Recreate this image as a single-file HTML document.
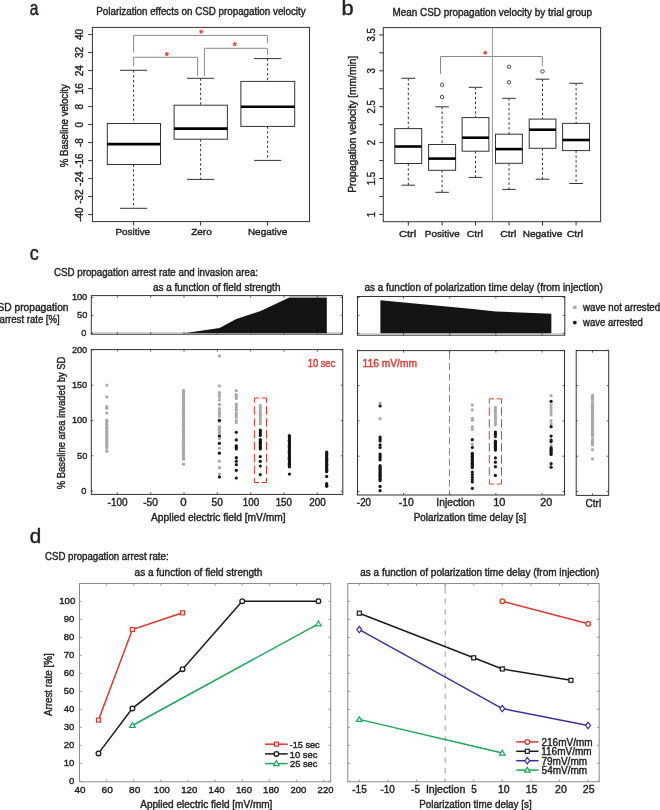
<!DOCTYPE html>
<html><head><meta charset="utf-8"><title>figure</title>
<style>
html,body{margin:0;padding:0;background:#fff;}
body{width:660px;height:810px;overflow:hidden;}
svg{display:block;font-family:"Liberation Sans", sans-serif;}
svg{will-change:transform;}
</style></head><body>
<svg width="660" height="810" viewBox="0 0 660 810">
<rect x="0" y="0" width="660" height="810" fill="#fff"/>
<text transform="translate(29.75,14.80) scale(0.7885,1)" font-size="19.7" fill="#231f20" stroke="#231f20" stroke-width="0.45">a</text>
<text transform="translate(341.51,14.80) scale(1.0497,1)" font-size="20.7" fill="#231f20" stroke="#231f20" stroke-width="0.45">b</text>
<text transform="translate(29.84,260.30) scale(0.9165,1)" font-size="19.7" fill="#231f20" stroke="#231f20" stroke-width="0.45">c</text>
<text transform="translate(29.73,543.00) scale(0.9984,1)" font-size="20.7" fill="#231f20" stroke="#231f20" stroke-width="0.45">d</text>
<text transform="translate(96.30,15.00) scale(0.9799,1)" font-size="10" fill="#231f20" stroke="#231f20" stroke-width="0.4">Polarization effects on CSD propagation velocity</text>
<rect x="92.40" y="27.40" width="217.10" height="194.20" stroke="#333" stroke-width="1" fill="none"/>
<line x1="88.20" y1="214.60" x2="92.40" y2="214.60" stroke="#333" stroke-width="1"/>
<text transform="translate(83.40,221.85) rotate(-90) scale(1.0000,1)" font-size="10" fill="#231f20" stroke="#231f20" stroke-width="0.4">-40</text>
<line x1="88.20" y1="196.60" x2="92.40" y2="196.60" stroke="#333" stroke-width="1"/>
<text transform="translate(83.40,203.79) rotate(-90) scale(1.0000,1)" font-size="10" fill="#231f20" stroke="#231f20" stroke-width="0.4">-32</text>
<line x1="88.20" y1="178.60" x2="92.40" y2="178.60" stroke="#333" stroke-width="1"/>
<text transform="translate(83.40,185.90) rotate(-90) scale(1.0000,1)" font-size="10" fill="#231f20" stroke="#231f20" stroke-width="0.4">-24</text>
<line x1="88.20" y1="160.60" x2="92.40" y2="160.60" stroke="#333" stroke-width="1"/>
<text transform="translate(83.40,167.83) rotate(-90) scale(1.0000,1)" font-size="10" fill="#231f20" stroke="#231f20" stroke-width="0.4">-16</text>
<line x1="88.20" y1="142.60" x2="92.40" y2="142.60" stroke="#333" stroke-width="1"/>
<text transform="translate(83.40,147.05) rotate(-90) scale(1.0000,1)" font-size="10" fill="#231f20" stroke="#231f20" stroke-width="0.4">-8</text>
<line x1="88.20" y1="124.60" x2="92.40" y2="124.60" stroke="#333" stroke-width="1"/>
<text transform="translate(83.40,127.38) rotate(-90) scale(1.0000,1)" font-size="10" fill="#231f20" stroke="#231f20" stroke-width="0.4">0</text>
<line x1="88.20" y1="106.60" x2="92.40" y2="106.60" stroke="#333" stroke-width="1"/>
<text transform="translate(83.40,109.38) rotate(-90) scale(1.0000,1)" font-size="10" fill="#231f20" stroke="#231f20" stroke-width="0.4">8</text>
<line x1="88.20" y1="88.60" x2="92.40" y2="88.60" stroke="#333" stroke-width="1"/>
<text transform="translate(83.40,94.32) rotate(-90) scale(1.0000,1)" font-size="10" fill="#231f20" stroke="#231f20" stroke-width="0.4">16</text>
<line x1="88.20" y1="70.60" x2="92.40" y2="70.60" stroke="#333" stroke-width="1"/>
<text transform="translate(83.40,76.27) rotate(-90) scale(1.0000,1)" font-size="10" fill="#231f20" stroke="#231f20" stroke-width="0.4">24</text>
<line x1="88.20" y1="52.60" x2="92.40" y2="52.60" stroke="#333" stroke-width="1"/>
<text transform="translate(83.40,58.10) rotate(-90) scale(1.0000,1)" font-size="10" fill="#231f20" stroke="#231f20" stroke-width="0.4">32</text>
<line x1="88.20" y1="34.60" x2="92.40" y2="34.60" stroke="#333" stroke-width="1"/>
<text transform="translate(83.40,40.08) rotate(-90) scale(1.0000,1)" font-size="10" fill="#231f20" stroke="#231f20" stroke-width="0.4">40</text>
<text transform="translate(68.20,167.24) rotate(-90) scale(0.9653,1)" font-size="10" fill="#231f20" stroke="#231f20" stroke-width="0.4">% Baseline velocity</text>
<line x1="133.60" y1="70.30" x2="133.60" y2="123.50" stroke="#333" stroke-width="1" stroke-dasharray="2.4,2.4"/>
<line x1="133.60" y1="164.50" x2="133.60" y2="208.30" stroke="#333" stroke-width="1" stroke-dasharray="2.4,2.4"/>
<line x1="120.10" y1="70.30" x2="147.10" y2="70.30" stroke="#333" stroke-width="1"/>
<line x1="120.10" y1="208.30" x2="147.10" y2="208.30" stroke="#333" stroke-width="1"/>
<rect x="107.30" y="123.50" width="53.20" height="41.00" stroke="#333" stroke-width="1" fill="#fff"/>
<line x1="107.30" y1="144.10" x2="160.50" y2="144.10" stroke="#000" stroke-width="2.6"/>
<line x1="133.60" y1="221.30" x2="133.60" y2="225.50" stroke="#333" stroke-width="1"/>
<text transform="translate(115.49,235.00) scale(1.0098,1)" font-size="9.8" fill="#231f20" stroke="#231f20" stroke-width="0.4">Positive</text>
<line x1="200.60" y1="78.30" x2="200.60" y2="105.20" stroke="#333" stroke-width="1" stroke-dasharray="2.4,2.4"/>
<line x1="200.60" y1="139.20" x2="200.60" y2="179.40" stroke="#333" stroke-width="1" stroke-dasharray="2.4,2.4"/>
<line x1="187.10" y1="78.30" x2="214.10" y2="78.30" stroke="#333" stroke-width="1"/>
<line x1="187.10" y1="179.40" x2="214.10" y2="179.40" stroke="#333" stroke-width="1"/>
<rect x="174.10" y="105.20" width="53.30" height="34.00" stroke="#333" stroke-width="1" fill="#fff"/>
<line x1="174.10" y1="128.60" x2="227.40" y2="128.60" stroke="#000" stroke-width="2.6"/>
<line x1="200.60" y1="221.30" x2="200.60" y2="225.50" stroke="#333" stroke-width="1"/>
<text transform="translate(191.19,235.00) scale(1.0184,1)" font-size="9.8" fill="#231f20" stroke="#231f20" stroke-width="0.4">Zero</text>
<line x1="267.60" y1="58.60" x2="267.60" y2="81.40" stroke="#333" stroke-width="1" stroke-dasharray="2.4,2.4"/>
<line x1="267.60" y1="126.40" x2="267.60" y2="160.40" stroke="#333" stroke-width="1" stroke-dasharray="2.4,2.4"/>
<line x1="254.10" y1="58.60" x2="281.10" y2="58.60" stroke="#333" stroke-width="1"/>
<line x1="254.10" y1="160.40" x2="281.10" y2="160.40" stroke="#333" stroke-width="1"/>
<rect x="240.90" y="81.40" width="53.80" height="45.00" stroke="#333" stroke-width="1" fill="#fff"/>
<line x1="240.90" y1="106.70" x2="294.70" y2="106.70" stroke="#000" stroke-width="2.6"/>
<line x1="267.60" y1="221.30" x2="267.60" y2="225.50" stroke="#333" stroke-width="1"/>
<text transform="translate(247.88,235.00) scale(1.0228,1)" font-size="9.8" fill="#231f20" stroke="#231f20" stroke-width="0.4">Negative</text>
<polyline points="133.60,52.60 133.60,35.40 267.60,35.40 267.60,43.50" fill="none" stroke="#8a8a8a" stroke-width="1"/>
<polyline points="133.60,66.20 133.60,57.30 197.60,57.30 197.60,76.00" fill="none" stroke="#8a8a8a" stroke-width="1"/>
<polyline points="204.40,76.00 204.40,48.30 267.60,48.30 267.60,54.80" fill="none" stroke="#8a8a8a" stroke-width="1"/>
<line x1="201.10" y1="31.70" x2="201.10" y2="29.60" stroke="#e53a30" stroke-width="1.2"/>
<line x1="201.10" y1="31.70" x2="199.10" y2="31.05" stroke="#e53a30" stroke-width="1.2"/>
<line x1="201.10" y1="31.70" x2="199.87" y2="33.40" stroke="#e53a30" stroke-width="1.2"/>
<line x1="201.10" y1="31.70" x2="202.33" y2="33.40" stroke="#e53a30" stroke-width="1.2"/>
<line x1="201.10" y1="31.70" x2="203.10" y2="31.05" stroke="#e53a30" stroke-width="1.2"/>
<line x1="166.80" y1="54.10" x2="166.80" y2="52.00" stroke="#e53a30" stroke-width="1.2"/>
<line x1="166.80" y1="54.10" x2="164.80" y2="53.45" stroke="#e53a30" stroke-width="1.2"/>
<line x1="166.80" y1="54.10" x2="165.57" y2="55.80" stroke="#e53a30" stroke-width="1.2"/>
<line x1="166.80" y1="54.10" x2="168.03" y2="55.80" stroke="#e53a30" stroke-width="1.2"/>
<line x1="166.80" y1="54.10" x2="168.80" y2="53.45" stroke="#e53a30" stroke-width="1.2"/>
<line x1="234.70" y1="44.20" x2="234.70" y2="42.10" stroke="#e53a30" stroke-width="1.2"/>
<line x1="234.70" y1="44.20" x2="232.70" y2="43.55" stroke="#e53a30" stroke-width="1.2"/>
<line x1="234.70" y1="44.20" x2="233.47" y2="45.90" stroke="#e53a30" stroke-width="1.2"/>
<line x1="234.70" y1="44.20" x2="235.93" y2="45.90" stroke="#e53a30" stroke-width="1.2"/>
<line x1="234.70" y1="44.20" x2="236.70" y2="43.55" stroke="#e53a30" stroke-width="1.2"/>
<text transform="translate(392.49,15.80) scale(0.9920,1)" font-size="10" fill="#231f20" stroke="#231f20" stroke-width="0.4">Mean CSD propagation velocity by trial group</text>
<rect x="383.30" y="27.60" width="217.30" height="194.10" stroke="#333" stroke-width="1" fill="none"/>
<line x1="379.20" y1="214.40" x2="383.30" y2="214.40" stroke="#333" stroke-width="1"/>
<text transform="translate(375.00,217.20) rotate(-90) scale(0.9300,1)" font-size="10.3" fill="#231f20" stroke="#231f20" stroke-width="0.4">1</text>
<line x1="379.20" y1="196.45" x2="383.30" y2="196.45" stroke="#333" stroke-width="1"/>
<line x1="379.20" y1="178.50" x2="383.30" y2="178.50" stroke="#333" stroke-width="1"/>
<text transform="translate(375.00,185.33) rotate(-90) scale(0.9300,1)" font-size="10.3" fill="#231f20" stroke="#231f20" stroke-width="0.4">1.5</text>
<line x1="379.20" y1="160.55" x2="383.30" y2="160.55" stroke="#333" stroke-width="1"/>
<line x1="379.20" y1="142.60" x2="383.30" y2="142.60" stroke="#333" stroke-width="1"/>
<text transform="translate(375.00,145.26) rotate(-90) scale(0.9300,1)" font-size="10.3" fill="#231f20" stroke="#231f20" stroke-width="0.4">2</text>
<line x1="379.20" y1="124.65" x2="383.30" y2="124.65" stroke="#333" stroke-width="1"/>
<line x1="379.20" y1="106.70" x2="383.30" y2="106.70" stroke="#333" stroke-width="1"/>
<text transform="translate(375.00,113.40) rotate(-90) scale(0.9300,1)" font-size="10.3" fill="#231f20" stroke="#231f20" stroke-width="0.4">2.5</text>
<line x1="379.20" y1="88.75" x2="383.30" y2="88.75" stroke="#333" stroke-width="1"/>
<line x1="379.20" y1="70.80" x2="383.30" y2="70.80" stroke="#333" stroke-width="1"/>
<text transform="translate(375.00,73.44) rotate(-90) scale(0.9300,1)" font-size="10.3" fill="#231f20" stroke="#231f20" stroke-width="0.4">3</text>
<line x1="379.20" y1="52.85" x2="383.30" y2="52.85" stroke="#333" stroke-width="1"/>
<line x1="379.20" y1="34.90" x2="383.30" y2="34.90" stroke="#333" stroke-width="1"/>
<text transform="translate(375.00,41.54) rotate(-90) scale(0.9300,1)" font-size="10.3" fill="#231f20" stroke="#231f20" stroke-width="0.4">3.5</text>
<text transform="translate(356.20,192.84) rotate(-90) scale(1.0256,1)" font-size="10" fill="#231f20" stroke="#231f20" stroke-width="0.4">Propagation velocity [mm/min]</text>
<line x1="492.40" y1="27.60" x2="492.40" y2="221.50" stroke="#999" stroke-width="1"/>
<line x1="408.30" y1="78.30" x2="408.30" y2="128.60" stroke="#333" stroke-width="1" stroke-dasharray="2.4,2.4"/>
<line x1="408.30" y1="163.50" x2="408.30" y2="185.20" stroke="#333" stroke-width="1" stroke-dasharray="2.4,2.4"/>
<line x1="401.50" y1="78.30" x2="415.10" y2="78.30" stroke="#333" stroke-width="1"/>
<line x1="401.50" y1="185.20" x2="415.10" y2="185.20" stroke="#333" stroke-width="1"/>
<rect x="394.80" y="128.60" width="26.90" height="34.90" stroke="#333" stroke-width="1" fill="#fff"/>
<line x1="394.80" y1="146.50" x2="421.70" y2="146.50" stroke="#000" stroke-width="2.6"/>
<line x1="408.30" y1="221.50" x2="408.30" y2="225.50" stroke="#333" stroke-width="1"/>
<text transform="translate(398.94,237.00) scale(1.1346,1)" font-size="9.8" fill="#231f20" stroke="#231f20" stroke-width="0.4">Ctrl</text>
<line x1="442.10" y1="106.80" x2="442.10" y2="144.50" stroke="#333" stroke-width="1" stroke-dasharray="2.4,2.4"/>
<line x1="442.10" y1="170.30" x2="442.10" y2="192.30" stroke="#333" stroke-width="1" stroke-dasharray="2.4,2.4"/>
<line x1="435.30" y1="106.80" x2="448.90" y2="106.80" stroke="#333" stroke-width="1"/>
<line x1="435.30" y1="192.30" x2="448.90" y2="192.30" stroke="#333" stroke-width="1"/>
<rect x="428.60" y="144.50" width="27.00" height="25.80" stroke="#333" stroke-width="1" fill="#fff"/>
<line x1="428.60" y1="158.60" x2="455.60" y2="158.60" stroke="#000" stroke-width="2.6"/>
<circle cx="442.10" cy="84.80" r="1.7" fill="none" stroke="#333" stroke-width="0.9"/>
<circle cx="442.10" cy="97.00" r="1.7" fill="none" stroke="#333" stroke-width="0.9"/>
<line x1="442.10" y1="221.50" x2="442.10" y2="225.50" stroke="#333" stroke-width="1"/>
<text transform="translate(424.78,237.00) scale(1.0219,1)" font-size="9.8" fill="#231f20" stroke="#231f20" stroke-width="0.4">Positive</text>
<line x1="475.50" y1="87.30" x2="475.50" y2="117.60" stroke="#333" stroke-width="1" stroke-dasharray="2.4,2.4"/>
<line x1="475.50" y1="151.20" x2="475.50" y2="177.40" stroke="#333" stroke-width="1" stroke-dasharray="2.4,2.4"/>
<line x1="468.70" y1="87.30" x2="482.30" y2="87.30" stroke="#333" stroke-width="1"/>
<line x1="468.70" y1="177.40" x2="482.30" y2="177.40" stroke="#333" stroke-width="1"/>
<rect x="462.10" y="117.60" width="26.80" height="33.60" stroke="#333" stroke-width="1" fill="#fff"/>
<line x1="462.10" y1="137.70" x2="488.90" y2="137.70" stroke="#000" stroke-width="2.6"/>
<line x1="475.50" y1="221.50" x2="475.50" y2="225.50" stroke="#333" stroke-width="1"/>
<text transform="translate(466.78,237.00) scale(1.0637,1)" font-size="9.8" fill="#231f20" stroke="#231f20" stroke-width="0.4">Ctrl</text>
<line x1="509.00" y1="98.30" x2="509.00" y2="134.20" stroke="#333" stroke-width="1" stroke-dasharray="2.4,2.4"/>
<line x1="509.00" y1="163.30" x2="509.00" y2="189.40" stroke="#333" stroke-width="1" stroke-dasharray="2.4,2.4"/>
<line x1="502.20" y1="98.30" x2="515.80" y2="98.30" stroke="#333" stroke-width="1"/>
<line x1="502.20" y1="189.40" x2="515.80" y2="189.40" stroke="#333" stroke-width="1"/>
<rect x="495.50" y="134.20" width="26.90" height="29.10" stroke="#333" stroke-width="1" fill="#fff"/>
<line x1="495.50" y1="149.10" x2="522.40" y2="149.10" stroke="#000" stroke-width="2.6"/>
<circle cx="509.00" cy="66.70" r="1.7" fill="none" stroke="#333" stroke-width="0.9"/>
<circle cx="509.00" cy="82.30" r="1.7" fill="none" stroke="#333" stroke-width="0.9"/>
<line x1="509.00" y1="221.50" x2="509.00" y2="225.50" stroke="#333" stroke-width="1"/>
<text transform="translate(500.18,237.00) scale(1.0637,1)" font-size="9.8" fill="#231f20" stroke="#231f20" stroke-width="0.4">Ctrl</text>
<line x1="542.50" y1="79.20" x2="542.50" y2="119.10" stroke="#333" stroke-width="1" stroke-dasharray="2.4,2.4"/>
<line x1="542.50" y1="148.30" x2="542.50" y2="179.20" stroke="#333" stroke-width="1" stroke-dasharray="2.4,2.4"/>
<line x1="535.70" y1="79.20" x2="549.30" y2="79.20" stroke="#333" stroke-width="1"/>
<line x1="535.70" y1="179.20" x2="549.30" y2="179.20" stroke="#333" stroke-width="1"/>
<rect x="529.20" y="119.10" width="26.70" height="29.20" stroke="#333" stroke-width="1" fill="#fff"/>
<line x1="529.20" y1="129.70" x2="555.90" y2="129.70" stroke="#000" stroke-width="2.6"/>
<circle cx="542.50" cy="71.40" r="1.7" fill="none" stroke="#333" stroke-width="0.9"/>
<line x1="542.50" y1="221.50" x2="542.50" y2="225.50" stroke="#333" stroke-width="1"/>
<text transform="translate(522.78,237.00) scale(1.0201,1)" font-size="9.8" fill="#231f20" stroke="#231f20" stroke-width="0.4">Negative</text>
<line x1="576.10" y1="83.30" x2="576.10" y2="123.40" stroke="#333" stroke-width="1" stroke-dasharray="2.4,2.4"/>
<line x1="576.10" y1="150.60" x2="576.10" y2="183.50" stroke="#333" stroke-width="1" stroke-dasharray="2.4,2.4"/>
<line x1="569.30" y1="83.30" x2="582.90" y2="83.30" stroke="#333" stroke-width="1"/>
<line x1="569.30" y1="183.50" x2="582.90" y2="183.50" stroke="#333" stroke-width="1"/>
<rect x="562.60" y="123.40" width="26.90" height="27.20" stroke="#333" stroke-width="1" fill="#fff"/>
<line x1="562.60" y1="140.00" x2="589.50" y2="140.00" stroke="#000" stroke-width="2.6"/>
<line x1="576.10" y1="221.50" x2="576.10" y2="225.50" stroke="#333" stroke-width="1"/>
<text transform="translate(566.67,237.00) scale(1.0849,1)" font-size="9.8" fill="#231f20" stroke="#231f20" stroke-width="0.4">Ctrl</text>
<polyline points="440.50,73.90 440.50,56.50 542.30,56.50 542.30,66.40" fill="none" stroke="#8a8a8a" stroke-width="1"/>
<line x1="485.20" y1="52.70" x2="485.20" y2="50.60" stroke="#e53a30" stroke-width="1.2"/>
<line x1="485.20" y1="52.70" x2="483.20" y2="52.05" stroke="#e53a30" stroke-width="1.2"/>
<line x1="485.20" y1="52.70" x2="483.97" y2="54.40" stroke="#e53a30" stroke-width="1.2"/>
<line x1="485.20" y1="52.70" x2="486.43" y2="54.40" stroke="#e53a30" stroke-width="1.2"/>
<line x1="485.20" y1="52.70" x2="487.20" y2="52.05" stroke="#e53a30" stroke-width="1.2"/>
<text transform="translate(54.01,275.50) scale(0.9752,1)" font-size="10" fill="#231f20" stroke="#231f20" stroke-width="0.4">CSD propagation arrest rate and invasion area:</text>
<text transform="translate(152.88,291.00) scale(0.9984,1)" font-size="10" fill="#231f20" stroke="#231f20" stroke-width="0.4">as a function of field strength</text>
<text transform="translate(364.38,291.00) scale(0.9985,1)" font-size="10" fill="#231f20" stroke="#231f20" stroke-width="0.4">as a function of polarization time delay (from injection)</text>
<text transform="translate(-10.01,311.10) scale(1.0255,1)" font-size="10" fill="#231f20" stroke="#231f20" stroke-width="0.4">CSD propagation</text>
<text transform="translate(-0.40,323.20) scale(0.9583,1)" font-size="10" fill="#231f20" stroke="#231f20" stroke-width="0.4">arrest rate [%]</text>
<line x1="91.30" y1="332.50" x2="342.50" y2="332.50" stroke="#c8c8c8" stroke-width="0.8"/>
<polygon points="184.00,333.30 219.52,327.92 236.32,318.94 260.65,311.04 289.31,297.40 326.80,297.40 326.80,333.30" fill="#141414"/>
<line x1="289.31" y1="296.90" x2="326.80" y2="296.90" stroke="#aaa" stroke-width="1"/>
<rect x="91.30" y="295.60" width="251.20" height="38.60" stroke="#333" stroke-width="1" fill="none"/>
<line x1="117.35" y1="295.60" x2="117.35" y2="297.60" stroke="#333" stroke-width="0.8"/>
<line x1="117.35" y1="334.20" x2="117.35" y2="332.20" stroke="#333" stroke-width="0.8"/>
<line x1="150.68" y1="295.60" x2="150.68" y2="297.60" stroke="#333" stroke-width="0.8"/>
<line x1="150.68" y1="334.20" x2="150.68" y2="332.20" stroke="#333" stroke-width="0.8"/>
<line x1="184.00" y1="295.60" x2="184.00" y2="297.60" stroke="#333" stroke-width="0.8"/>
<line x1="184.00" y1="334.20" x2="184.00" y2="332.20" stroke="#333" stroke-width="0.8"/>
<line x1="217.32" y1="295.60" x2="217.32" y2="297.60" stroke="#333" stroke-width="0.8"/>
<line x1="217.32" y1="334.20" x2="217.32" y2="332.20" stroke="#333" stroke-width="0.8"/>
<line x1="250.65" y1="295.60" x2="250.65" y2="297.60" stroke="#333" stroke-width="0.8"/>
<line x1="250.65" y1="334.20" x2="250.65" y2="332.20" stroke="#333" stroke-width="0.8"/>
<line x1="283.98" y1="295.60" x2="283.98" y2="297.60" stroke="#333" stroke-width="0.8"/>
<line x1="283.98" y1="334.20" x2="283.98" y2="332.20" stroke="#333" stroke-width="0.8"/>
<line x1="317.30" y1="295.60" x2="317.30" y2="297.60" stroke="#333" stroke-width="0.8"/>
<line x1="317.30" y1="334.20" x2="317.30" y2="332.20" stroke="#333" stroke-width="0.8"/>
<line x1="91.30" y1="333.30" x2="93.30" y2="333.30" stroke="#333" stroke-width="0.8"/>
<line x1="342.50" y1="333.30" x2="340.50" y2="333.30" stroke="#333" stroke-width="0.8"/>
<line x1="91.30" y1="315.35" x2="93.30" y2="315.35" stroke="#333" stroke-width="0.8"/>
<line x1="342.50" y1="315.35" x2="340.50" y2="315.35" stroke="#333" stroke-width="0.8"/>
<line x1="91.30" y1="297.40" x2="93.30" y2="297.40" stroke="#333" stroke-width="0.8"/>
<line x1="342.50" y1="297.40" x2="340.50" y2="297.40" stroke="#333" stroke-width="0.8"/>
<text transform="translate(71.88,300.42) scale(0.9400,1)" font-size="9.8" fill="#231f20" stroke="#231f20" stroke-width="0.4">100</text>
<text transform="translate(77.01,318.02) scale(0.9400,1)" font-size="9.8" fill="#231f20" stroke="#231f20" stroke-width="0.4">50</text>
<text transform="translate(81.13,335.82) scale(0.9400,1)" font-size="9.8" fill="#231f20" stroke="#231f20" stroke-width="0.4">0</text>
<line x1="357.50" y1="333.50" x2="564.80" y2="333.50" stroke="#c8c8c8" stroke-width="0.8"/>
<polygon points="380.40,333.30 380.40,300.27 472.80,308.89 495.90,311.40 551.34,313.73 551.34,333.30" fill="#141414"/>
<rect x="357.50" y="296.50" width="207.30" height="38.70" stroke="#333" stroke-width="1" fill="none"/>
<line x1="357.30" y1="296.50" x2="357.30" y2="298.50" stroke="#333" stroke-width="0.8"/>
<line x1="357.30" y1="335.20" x2="357.30" y2="333.20" stroke="#333" stroke-width="0.8"/>
<line x1="403.50" y1="296.50" x2="403.50" y2="298.50" stroke="#333" stroke-width="0.8"/>
<line x1="403.50" y1="335.20" x2="403.50" y2="333.20" stroke="#333" stroke-width="0.8"/>
<line x1="449.70" y1="296.50" x2="449.70" y2="298.50" stroke="#333" stroke-width="0.8"/>
<line x1="449.70" y1="335.20" x2="449.70" y2="333.20" stroke="#333" stroke-width="0.8"/>
<line x1="495.90" y1="296.50" x2="495.90" y2="298.50" stroke="#333" stroke-width="0.8"/>
<line x1="495.90" y1="335.20" x2="495.90" y2="333.20" stroke="#333" stroke-width="0.8"/>
<line x1="542.10" y1="296.50" x2="542.10" y2="298.50" stroke="#333" stroke-width="0.8"/>
<line x1="542.10" y1="335.20" x2="542.10" y2="333.20" stroke="#333" stroke-width="0.8"/>
<line x1="357.50" y1="333.30" x2="359.50" y2="333.30" stroke="#333" stroke-width="0.8"/>
<line x1="564.80" y1="333.30" x2="562.80" y2="333.30" stroke="#333" stroke-width="0.8"/>
<line x1="357.50" y1="315.35" x2="359.50" y2="315.35" stroke="#333" stroke-width="0.8"/>
<line x1="564.80" y1="315.35" x2="562.80" y2="315.35" stroke="#333" stroke-width="0.8"/>
<line x1="357.50" y1="297.40" x2="359.50" y2="297.40" stroke="#333" stroke-width="0.8"/>
<line x1="564.80" y1="297.40" x2="562.80" y2="297.40" stroke="#333" stroke-width="0.8"/>
<circle cx="574.80" cy="307.30" r="1.9" fill="#a9a9a9" stroke="none" stroke-width="1"/>
<circle cx="574.80" cy="322.60" r="1.9" fill="#141414" stroke="none" stroke-width="1"/>
<text transform="translate(583.02,311.00) scale(0.9712,1)" font-size="10" fill="#231f20" stroke="#231f20" stroke-width="0.4">wave not arrested</text>
<text transform="translate(583.02,325.70) scale(0.9535,1)" font-size="10" fill="#231f20" stroke="#231f20" stroke-width="0.4">wave arrested</text>
<rect x="91.30" y="349.60" width="251.50" height="144.80" stroke="#333" stroke-width="1" fill="none"/>
<line x1="117.35" y1="349.60" x2="117.35" y2="351.60" stroke="#333" stroke-width="0.8"/>
<line x1="117.35" y1="494.40" x2="117.35" y2="492.40" stroke="#333" stroke-width="0.8"/>
<text transform="translate(107.56,506.20) scale(0.9860,1)" font-size="10.2" fill="#231f20" stroke="#231f20" stroke-width="0.4">-100</text>
<line x1="150.68" y1="349.60" x2="150.68" y2="351.60" stroke="#333" stroke-width="0.8"/>
<line x1="150.68" y1="494.40" x2="150.68" y2="492.40" stroke="#333" stroke-width="0.8"/>
<text transform="translate(143.15,506.20) scale(0.9998,1)" font-size="10.2" fill="#231f20" stroke="#231f20" stroke-width="0.4">-50</text>
<line x1="184.00" y1="349.60" x2="184.00" y2="351.60" stroke="#333" stroke-width="0.8"/>
<line x1="184.00" y1="494.40" x2="184.00" y2="492.40" stroke="#333" stroke-width="0.8"/>
<text transform="translate(180.25,506.20) scale(1.1257,1)" font-size="10.2" fill="#231f20" stroke="#231f20" stroke-width="0.4">0</text>
<line x1="217.32" y1="349.60" x2="217.32" y2="351.60" stroke="#333" stroke-width="0.8"/>
<line x1="217.32" y1="494.40" x2="217.32" y2="492.40" stroke="#333" stroke-width="0.8"/>
<text transform="translate(211.59,506.20) scale(0.9956,1)" font-size="10.2" fill="#231f20" stroke="#231f20" stroke-width="0.4">50</text>
<line x1="250.65" y1="349.60" x2="250.65" y2="351.60" stroke="#333" stroke-width="0.8"/>
<line x1="250.65" y1="494.40" x2="250.65" y2="492.40" stroke="#333" stroke-width="0.8"/>
<text transform="translate(242.85,506.20) scale(0.9653,1)" font-size="10.2" fill="#231f20" stroke="#231f20" stroke-width="0.4">100</text>
<line x1="283.98" y1="349.60" x2="283.98" y2="351.60" stroke="#333" stroke-width="0.8"/>
<line x1="283.98" y1="494.40" x2="283.98" y2="492.40" stroke="#333" stroke-width="0.8"/>
<text transform="translate(275.66,506.20) scale(0.9589,1)" font-size="10.2" fill="#231f20" stroke="#231f20" stroke-width="0.4">150</text>
<line x1="317.30" y1="349.60" x2="317.30" y2="351.60" stroke="#333" stroke-width="0.8"/>
<line x1="317.30" y1="494.40" x2="317.30" y2="492.40" stroke="#333" stroke-width="0.8"/>
<text transform="translate(309.30,506.20) scale(0.9742,1)" font-size="10.2" fill="#231f20" stroke="#231f20" stroke-width="0.4">200</text>
<line x1="91.30" y1="491.10" x2="93.30" y2="491.10" stroke="#333" stroke-width="0.8"/>
<line x1="342.80" y1="491.10" x2="340.80" y2="491.10" stroke="#333" stroke-width="0.8"/>
<text transform="translate(81.13,493.92) scale(0.9400,1)" font-size="9.8" fill="#231f20" stroke="#231f20" stroke-width="0.4">0</text>
<line x1="91.30" y1="455.80" x2="93.30" y2="455.80" stroke="#333" stroke-width="0.8"/>
<line x1="342.80" y1="455.80" x2="340.80" y2="455.80" stroke="#333" stroke-width="0.8"/>
<text transform="translate(77.01,458.62) scale(0.9400,1)" font-size="9.8" fill="#231f20" stroke="#231f20" stroke-width="0.4">50</text>
<line x1="91.30" y1="420.50" x2="93.30" y2="420.50" stroke="#333" stroke-width="0.8"/>
<line x1="342.80" y1="420.50" x2="340.80" y2="420.50" stroke="#333" stroke-width="0.8"/>
<text transform="translate(71.88,423.32) scale(0.9400,1)" font-size="9.8" fill="#231f20" stroke="#231f20" stroke-width="0.4">100</text>
<line x1="91.30" y1="385.20" x2="93.30" y2="385.20" stroke="#333" stroke-width="0.8"/>
<line x1="342.80" y1="385.20" x2="340.80" y2="385.20" stroke="#333" stroke-width="0.8"/>
<text transform="translate(71.88,388.02) scale(0.9400,1)" font-size="9.8" fill="#231f20" stroke="#231f20" stroke-width="0.4">150</text>
<line x1="91.30" y1="349.90" x2="93.30" y2="349.90" stroke="#333" stroke-width="0.8"/>
<line x1="342.80" y1="349.90" x2="340.80" y2="349.90" stroke="#333" stroke-width="0.8"/>
<text transform="translate(71.88,352.72) scale(0.9400,1)" font-size="9.8" fill="#231f20" stroke="#231f20" stroke-width="0.4">200</text>
<text transform="translate(65.20,489.33) rotate(-90) scale(0.9441,1)" font-size="10" fill="#231f20" stroke="#231f20" stroke-width="0.4">% Baseline area invaded by SD</text>
<text transform="translate(150.98,521.10) scale(1.0231,1)" font-size="10" fill="#231f20" stroke="#231f20" stroke-width="0.4">Applied electric field [mV/mm]</text>
<text transform="translate(307.69,367.10) scale(0.9353,1)" font-size="10" fill="#e8352b" stroke="#e8352b" stroke-width="0.4">10 sec</text>
<circle cx="106.80" cy="385.10" r="1.6" fill="#a9a9a9" stroke="none" stroke-width="1"/>
<circle cx="106.80" cy="396.90" r="1.6" fill="#a9a9a9" stroke="none" stroke-width="1"/>
<circle cx="106.80" cy="406.70" r="1.6" fill="#a9a9a9" stroke="none" stroke-width="1"/>
<circle cx="106.80" cy="408.20" r="1.6" fill="#a9a9a9" stroke="none" stroke-width="1"/>
<circle cx="106.80" cy="413.00" r="1.6" fill="#a9a9a9" stroke="none" stroke-width="1"/>
<circle cx="106.80" cy="420.20" r="1.6" fill="#a9a9a9" stroke="none" stroke-width="1"/>
<circle cx="106.80" cy="421.59" r="1.6" fill="#a9a9a9" stroke="none" stroke-width="1"/>
<circle cx="106.80" cy="422.98" r="1.6" fill="#a9a9a9" stroke="none" stroke-width="1"/>
<circle cx="106.80" cy="424.37" r="1.6" fill="#a9a9a9" stroke="none" stroke-width="1"/>
<circle cx="106.80" cy="425.76" r="1.6" fill="#a9a9a9" stroke="none" stroke-width="1"/>
<circle cx="106.80" cy="427.15" r="1.6" fill="#a9a9a9" stroke="none" stroke-width="1"/>
<circle cx="106.80" cy="428.54" r="1.6" fill="#a9a9a9" stroke="none" stroke-width="1"/>
<circle cx="106.80" cy="429.93" r="1.6" fill="#a9a9a9" stroke="none" stroke-width="1"/>
<circle cx="106.80" cy="431.32" r="1.6" fill="#a9a9a9" stroke="none" stroke-width="1"/>
<circle cx="106.80" cy="432.71" r="1.6" fill="#a9a9a9" stroke="none" stroke-width="1"/>
<circle cx="106.80" cy="434.10" r="1.6" fill="#a9a9a9" stroke="none" stroke-width="1"/>
<circle cx="106.80" cy="435.49" r="1.6" fill="#a9a9a9" stroke="none" stroke-width="1"/>
<circle cx="106.80" cy="436.88" r="1.6" fill="#a9a9a9" stroke="none" stroke-width="1"/>
<circle cx="106.80" cy="438.27" r="1.6" fill="#a9a9a9" stroke="none" stroke-width="1"/>
<circle cx="106.80" cy="439.66" r="1.6" fill="#a9a9a9" stroke="none" stroke-width="1"/>
<circle cx="106.80" cy="441.05" r="1.6" fill="#a9a9a9" stroke="none" stroke-width="1"/>
<circle cx="106.80" cy="442.44" r="1.6" fill="#a9a9a9" stroke="none" stroke-width="1"/>
<circle cx="106.80" cy="443.83" r="1.6" fill="#a9a9a9" stroke="none" stroke-width="1"/>
<circle cx="106.80" cy="445.22" r="1.6" fill="#a9a9a9" stroke="none" stroke-width="1"/>
<circle cx="106.80" cy="446.61" r="1.6" fill="#a9a9a9" stroke="none" stroke-width="1"/>
<circle cx="106.80" cy="448.00" r="1.6" fill="#a9a9a9" stroke="none" stroke-width="1"/>
<circle cx="106.80" cy="451.20" r="1.6" fill="#a9a9a9" stroke="none" stroke-width="1"/>
<circle cx="183.50" cy="390.40" r="1.6" fill="#a9a9a9" stroke="none" stroke-width="1"/>
<circle cx="183.50" cy="391.61" r="1.6" fill="#a9a9a9" stroke="none" stroke-width="1"/>
<circle cx="183.50" cy="392.81" r="1.6" fill="#a9a9a9" stroke="none" stroke-width="1"/>
<circle cx="183.50" cy="394.02" r="1.6" fill="#a9a9a9" stroke="none" stroke-width="1"/>
<circle cx="183.50" cy="395.23" r="1.6" fill="#a9a9a9" stroke="none" stroke-width="1"/>
<circle cx="183.50" cy="396.44" r="1.6" fill="#a9a9a9" stroke="none" stroke-width="1"/>
<circle cx="183.50" cy="397.64" r="1.6" fill="#a9a9a9" stroke="none" stroke-width="1"/>
<circle cx="183.50" cy="398.85" r="1.6" fill="#a9a9a9" stroke="none" stroke-width="1"/>
<circle cx="183.50" cy="400.06" r="1.6" fill="#a9a9a9" stroke="none" stroke-width="1"/>
<circle cx="183.50" cy="401.26" r="1.6" fill="#a9a9a9" stroke="none" stroke-width="1"/>
<circle cx="183.50" cy="402.47" r="1.6" fill="#a9a9a9" stroke="none" stroke-width="1"/>
<circle cx="183.50" cy="403.68" r="1.6" fill="#a9a9a9" stroke="none" stroke-width="1"/>
<circle cx="183.50" cy="404.88" r="1.6" fill="#a9a9a9" stroke="none" stroke-width="1"/>
<circle cx="183.50" cy="406.09" r="1.6" fill="#a9a9a9" stroke="none" stroke-width="1"/>
<circle cx="183.50" cy="407.30" r="1.6" fill="#a9a9a9" stroke="none" stroke-width="1"/>
<circle cx="183.50" cy="408.51" r="1.6" fill="#a9a9a9" stroke="none" stroke-width="1"/>
<circle cx="183.50" cy="409.71" r="1.6" fill="#a9a9a9" stroke="none" stroke-width="1"/>
<circle cx="183.50" cy="410.92" r="1.6" fill="#a9a9a9" stroke="none" stroke-width="1"/>
<circle cx="183.50" cy="412.13" r="1.6" fill="#a9a9a9" stroke="none" stroke-width="1"/>
<circle cx="183.50" cy="413.33" r="1.6" fill="#a9a9a9" stroke="none" stroke-width="1"/>
<circle cx="183.50" cy="414.54" r="1.6" fill="#a9a9a9" stroke="none" stroke-width="1"/>
<circle cx="183.50" cy="415.75" r="1.6" fill="#a9a9a9" stroke="none" stroke-width="1"/>
<circle cx="183.50" cy="416.95" r="1.6" fill="#a9a9a9" stroke="none" stroke-width="1"/>
<circle cx="183.50" cy="418.16" r="1.6" fill="#a9a9a9" stroke="none" stroke-width="1"/>
<circle cx="183.50" cy="419.37" r="1.6" fill="#a9a9a9" stroke="none" stroke-width="1"/>
<circle cx="183.50" cy="420.58" r="1.6" fill="#a9a9a9" stroke="none" stroke-width="1"/>
<circle cx="183.50" cy="421.78" r="1.6" fill="#a9a9a9" stroke="none" stroke-width="1"/>
<circle cx="183.50" cy="422.99" r="1.6" fill="#a9a9a9" stroke="none" stroke-width="1"/>
<circle cx="183.50" cy="424.20" r="1.6" fill="#a9a9a9" stroke="none" stroke-width="1"/>
<circle cx="183.50" cy="425.40" r="1.6" fill="#a9a9a9" stroke="none" stroke-width="1"/>
<circle cx="183.50" cy="426.61" r="1.6" fill="#a9a9a9" stroke="none" stroke-width="1"/>
<circle cx="183.50" cy="427.82" r="1.6" fill="#a9a9a9" stroke="none" stroke-width="1"/>
<circle cx="183.50" cy="429.02" r="1.6" fill="#a9a9a9" stroke="none" stroke-width="1"/>
<circle cx="183.50" cy="430.23" r="1.6" fill="#a9a9a9" stroke="none" stroke-width="1"/>
<circle cx="183.50" cy="431.44" r="1.6" fill="#a9a9a9" stroke="none" stroke-width="1"/>
<circle cx="183.50" cy="432.65" r="1.6" fill="#a9a9a9" stroke="none" stroke-width="1"/>
<circle cx="183.50" cy="433.85" r="1.6" fill="#a9a9a9" stroke="none" stroke-width="1"/>
<circle cx="183.50" cy="435.06" r="1.6" fill="#a9a9a9" stroke="none" stroke-width="1"/>
<circle cx="183.50" cy="436.27" r="1.6" fill="#a9a9a9" stroke="none" stroke-width="1"/>
<circle cx="183.50" cy="437.47" r="1.6" fill="#a9a9a9" stroke="none" stroke-width="1"/>
<circle cx="183.50" cy="438.68" r="1.6" fill="#a9a9a9" stroke="none" stroke-width="1"/>
<circle cx="183.50" cy="439.89" r="1.6" fill="#a9a9a9" stroke="none" stroke-width="1"/>
<circle cx="183.50" cy="441.09" r="1.6" fill="#a9a9a9" stroke="none" stroke-width="1"/>
<circle cx="183.50" cy="442.30" r="1.6" fill="#a9a9a9" stroke="none" stroke-width="1"/>
<circle cx="183.50" cy="443.51" r="1.6" fill="#a9a9a9" stroke="none" stroke-width="1"/>
<circle cx="183.50" cy="444.72" r="1.6" fill="#a9a9a9" stroke="none" stroke-width="1"/>
<circle cx="183.50" cy="445.92" r="1.6" fill="#a9a9a9" stroke="none" stroke-width="1"/>
<circle cx="183.50" cy="447.13" r="1.6" fill="#a9a9a9" stroke="none" stroke-width="1"/>
<circle cx="183.50" cy="448.34" r="1.6" fill="#a9a9a9" stroke="none" stroke-width="1"/>
<circle cx="183.50" cy="449.54" r="1.6" fill="#a9a9a9" stroke="none" stroke-width="1"/>
<circle cx="183.50" cy="450.75" r="1.6" fill="#a9a9a9" stroke="none" stroke-width="1"/>
<circle cx="183.50" cy="451.96" r="1.6" fill="#a9a9a9" stroke="none" stroke-width="1"/>
<circle cx="183.50" cy="453.16" r="1.6" fill="#a9a9a9" stroke="none" stroke-width="1"/>
<circle cx="183.50" cy="454.37" r="1.6" fill="#a9a9a9" stroke="none" stroke-width="1"/>
<circle cx="183.50" cy="455.58" r="1.6" fill="#a9a9a9" stroke="none" stroke-width="1"/>
<circle cx="183.50" cy="456.79" r="1.6" fill="#a9a9a9" stroke="none" stroke-width="1"/>
<circle cx="183.50" cy="457.99" r="1.6" fill="#a9a9a9" stroke="none" stroke-width="1"/>
<circle cx="183.50" cy="459.20" r="1.6" fill="#a9a9a9" stroke="none" stroke-width="1"/>
<circle cx="183.50" cy="464.20" r="1.6" fill="#a9a9a9" stroke="none" stroke-width="1"/>
<circle cx="219.40" cy="355.90" r="1.6" fill="#a9a9a9" stroke="none" stroke-width="1"/>
<circle cx="219.40" cy="385.80" r="1.6" fill="#a9a9a9" stroke="none" stroke-width="1"/>
<circle cx="219.40" cy="392.50" r="1.6" fill="#a9a9a9" stroke="none" stroke-width="1"/>
<circle cx="219.40" cy="394.50" r="1.6" fill="#a9a9a9" stroke="none" stroke-width="1"/>
<circle cx="219.40" cy="396.60" r="1.6" fill="#a9a9a9" stroke="none" stroke-width="1"/>
<circle cx="219.40" cy="399.90" r="1.6" fill="#a9a9a9" stroke="none" stroke-width="1"/>
<circle cx="219.40" cy="404.40" r="1.6" fill="#a9a9a9" stroke="none" stroke-width="1"/>
<circle cx="219.40" cy="408.70" r="1.6" fill="#a9a9a9" stroke="none" stroke-width="1"/>
<circle cx="219.40" cy="411.30" r="1.6" fill="#a9a9a9" stroke="none" stroke-width="1"/>
<circle cx="219.40" cy="412.80" r="1.6" fill="#a9a9a9" stroke="none" stroke-width="1"/>
<circle cx="219.40" cy="414.30" r="1.6" fill="#a9a9a9" stroke="none" stroke-width="1"/>
<circle cx="219.40" cy="416.50" r="1.6" fill="#a9a9a9" stroke="none" stroke-width="1"/>
<circle cx="219.40" cy="421.50" r="1.6" fill="#a9a9a9" stroke="none" stroke-width="1"/>
<circle cx="219.40" cy="420.30" r="1.6" fill="#141414" stroke="none" stroke-width="1"/>
<circle cx="219.40" cy="426.70" r="1.6" fill="#a9a9a9" stroke="none" stroke-width="1"/>
<circle cx="219.40" cy="428.13" r="1.6" fill="#a9a9a9" stroke="none" stroke-width="1"/>
<circle cx="219.40" cy="429.57" r="1.6" fill="#a9a9a9" stroke="none" stroke-width="1"/>
<circle cx="219.40" cy="431.00" r="1.6" fill="#a9a9a9" stroke="none" stroke-width="1"/>
<circle cx="219.40" cy="432.43" r="1.6" fill="#a9a9a9" stroke="none" stroke-width="1"/>
<circle cx="219.40" cy="433.87" r="1.6" fill="#a9a9a9" stroke="none" stroke-width="1"/>
<circle cx="219.40" cy="435.30" r="1.6" fill="#a9a9a9" stroke="none" stroke-width="1"/>
<circle cx="219.40" cy="436.40" r="1.6" fill="#141414" stroke="none" stroke-width="1"/>
<circle cx="219.40" cy="438.70" r="1.6" fill="#a9a9a9" stroke="none" stroke-width="1"/>
<circle cx="219.40" cy="443.30" r="1.6" fill="#141414" stroke="none" stroke-width="1"/>
<circle cx="219.40" cy="448.20" r="1.6" fill="#a9a9a9" stroke="none" stroke-width="1"/>
<circle cx="219.40" cy="453.20" r="1.6" fill="#141414" stroke="none" stroke-width="1"/>
<circle cx="219.40" cy="461.20" r="1.6" fill="#a9a9a9" stroke="none" stroke-width="1"/>
<circle cx="219.40" cy="467.70" r="1.6" fill="#a9a9a9" stroke="none" stroke-width="1"/>
<circle cx="219.40" cy="474.20" r="1.6" fill="#a9a9a9" stroke="none" stroke-width="1"/>
<circle cx="219.40" cy="477.00" r="1.6" fill="#141414" stroke="none" stroke-width="1"/>
<circle cx="236.30" cy="390.60" r="1.6" fill="#a9a9a9" stroke="none" stroke-width="1"/>
<circle cx="236.30" cy="394.50" r="1.6" fill="#a9a9a9" stroke="none" stroke-width="1"/>
<circle cx="236.30" cy="396.50" r="1.6" fill="#a9a9a9" stroke="none" stroke-width="1"/>
<circle cx="236.30" cy="398.50" r="1.6" fill="#a9a9a9" stroke="none" stroke-width="1"/>
<circle cx="236.30" cy="404.00" r="1.6" fill="#a9a9a9" stroke="none" stroke-width="1"/>
<circle cx="236.30" cy="406.00" r="1.6" fill="#a9a9a9" stroke="none" stroke-width="1"/>
<circle cx="236.30" cy="408.00" r="1.6" fill="#a9a9a9" stroke="none" stroke-width="1"/>
<circle cx="236.30" cy="410.20" r="1.6" fill="#a9a9a9" stroke="none" stroke-width="1"/>
<circle cx="236.30" cy="413.00" r="1.6" fill="#a9a9a9" stroke="none" stroke-width="1"/>
<circle cx="236.30" cy="415.20" r="1.6" fill="#a9a9a9" stroke="none" stroke-width="1"/>
<circle cx="236.30" cy="417.20" r="1.6" fill="#a9a9a9" stroke="none" stroke-width="1"/>
<circle cx="236.30" cy="420.60" r="1.6" fill="#a9a9a9" stroke="none" stroke-width="1"/>
<circle cx="236.30" cy="422.60" r="1.6" fill="#a9a9a9" stroke="none" stroke-width="1"/>
<circle cx="236.30" cy="432.30" r="1.6" fill="#141414" stroke="none" stroke-width="1"/>
<circle cx="236.30" cy="439.90" r="1.6" fill="#141414" stroke="none" stroke-width="1"/>
<circle cx="236.30" cy="445.80" r="1.6" fill="#141414" stroke="none" stroke-width="1"/>
<circle cx="236.30" cy="447.50" r="1.6" fill="#141414" stroke="none" stroke-width="1"/>
<circle cx="236.30" cy="449.00" r="1.6" fill="#141414" stroke="none" stroke-width="1"/>
<circle cx="236.30" cy="457.70" r="1.6" fill="#141414" stroke="none" stroke-width="1"/>
<circle cx="236.30" cy="461.20" r="1.6" fill="#141414" stroke="none" stroke-width="1"/>
<circle cx="236.30" cy="464.70" r="1.6" fill="#141414" stroke="none" stroke-width="1"/>
<circle cx="236.30" cy="470.30" r="1.6" fill="#141414" stroke="none" stroke-width="1"/>
<circle cx="236.30" cy="478.00" r="1.6" fill="#141414" stroke="none" stroke-width="1"/>
<circle cx="260.30" cy="405.60" r="1.6" fill="#a9a9a9" stroke="none" stroke-width="1"/>
<circle cx="260.30" cy="407.61" r="1.6" fill="#a9a9a9" stroke="none" stroke-width="1"/>
<circle cx="260.30" cy="409.62" r="1.6" fill="#a9a9a9" stroke="none" stroke-width="1"/>
<circle cx="260.30" cy="411.63" r="1.6" fill="#a9a9a9" stroke="none" stroke-width="1"/>
<circle cx="260.30" cy="413.64" r="1.6" fill="#a9a9a9" stroke="none" stroke-width="1"/>
<circle cx="260.30" cy="415.66" r="1.6" fill="#a9a9a9" stroke="none" stroke-width="1"/>
<circle cx="260.30" cy="417.67" r="1.6" fill="#a9a9a9" stroke="none" stroke-width="1"/>
<circle cx="260.30" cy="419.68" r="1.6" fill="#a9a9a9" stroke="none" stroke-width="1"/>
<circle cx="260.30" cy="421.69" r="1.6" fill="#a9a9a9" stroke="none" stroke-width="1"/>
<circle cx="260.30" cy="423.70" r="1.6" fill="#a9a9a9" stroke="none" stroke-width="1"/>
<circle cx="260.30" cy="430.20" r="1.6" fill="#141414" stroke="none" stroke-width="1"/>
<circle cx="260.30" cy="432.00" r="1.6" fill="#141414" stroke="none" stroke-width="1"/>
<circle cx="260.30" cy="433.80" r="1.6" fill="#141414" stroke="none" stroke-width="1"/>
<circle cx="260.30" cy="435.50" r="1.6" fill="#141414" stroke="none" stroke-width="1"/>
<circle cx="260.30" cy="439.60" r="1.6" fill="#141414" stroke="none" stroke-width="1"/>
<circle cx="260.30" cy="440.94" r="1.6" fill="#141414" stroke="none" stroke-width="1"/>
<circle cx="260.30" cy="442.29" r="1.6" fill="#141414" stroke="none" stroke-width="1"/>
<circle cx="260.30" cy="443.63" r="1.6" fill="#141414" stroke="none" stroke-width="1"/>
<circle cx="260.30" cy="444.97" r="1.6" fill="#141414" stroke="none" stroke-width="1"/>
<circle cx="260.30" cy="446.31" r="1.6" fill="#141414" stroke="none" stroke-width="1"/>
<circle cx="260.30" cy="447.66" r="1.6" fill="#141414" stroke="none" stroke-width="1"/>
<circle cx="260.30" cy="449.00" r="1.6" fill="#141414" stroke="none" stroke-width="1"/>
<circle cx="260.30" cy="456.60" r="1.6" fill="#141414" stroke="none" stroke-width="1"/>
<circle cx="260.30" cy="461.30" r="1.6" fill="#141414" stroke="none" stroke-width="1"/>
<circle cx="260.30" cy="466.00" r="1.6" fill="#141414" stroke="none" stroke-width="1"/>
<circle cx="260.30" cy="474.70" r="1.6" fill="#141414" stroke="none" stroke-width="1"/>
<circle cx="289.40" cy="435.50" r="1.6" fill="#141414" stroke="none" stroke-width="1"/>
<circle cx="289.40" cy="436.70" r="1.6" fill="#141414" stroke="none" stroke-width="1"/>
<circle cx="289.40" cy="437.91" r="1.6" fill="#141414" stroke="none" stroke-width="1"/>
<circle cx="289.40" cy="439.11" r="1.6" fill="#141414" stroke="none" stroke-width="1"/>
<circle cx="289.40" cy="440.32" r="1.6" fill="#141414" stroke="none" stroke-width="1"/>
<circle cx="289.40" cy="441.52" r="1.6" fill="#141414" stroke="none" stroke-width="1"/>
<circle cx="289.40" cy="442.72" r="1.6" fill="#141414" stroke="none" stroke-width="1"/>
<circle cx="289.40" cy="443.93" r="1.6" fill="#141414" stroke="none" stroke-width="1"/>
<circle cx="289.40" cy="445.13" r="1.6" fill="#141414" stroke="none" stroke-width="1"/>
<circle cx="289.40" cy="446.33" r="1.6" fill="#141414" stroke="none" stroke-width="1"/>
<circle cx="289.40" cy="447.54" r="1.6" fill="#141414" stroke="none" stroke-width="1"/>
<circle cx="289.40" cy="448.74" r="1.6" fill="#141414" stroke="none" stroke-width="1"/>
<circle cx="289.40" cy="449.95" r="1.6" fill="#141414" stroke="none" stroke-width="1"/>
<circle cx="289.40" cy="451.15" r="1.6" fill="#141414" stroke="none" stroke-width="1"/>
<circle cx="289.40" cy="452.35" r="1.6" fill="#141414" stroke="none" stroke-width="1"/>
<circle cx="289.40" cy="453.56" r="1.6" fill="#141414" stroke="none" stroke-width="1"/>
<circle cx="289.40" cy="454.76" r="1.6" fill="#141414" stroke="none" stroke-width="1"/>
<circle cx="289.40" cy="455.97" r="1.6" fill="#141414" stroke="none" stroke-width="1"/>
<circle cx="289.40" cy="457.17" r="1.6" fill="#141414" stroke="none" stroke-width="1"/>
<circle cx="289.40" cy="458.37" r="1.6" fill="#141414" stroke="none" stroke-width="1"/>
<circle cx="289.40" cy="459.58" r="1.6" fill="#141414" stroke="none" stroke-width="1"/>
<circle cx="289.40" cy="460.78" r="1.6" fill="#141414" stroke="none" stroke-width="1"/>
<circle cx="289.40" cy="461.98" r="1.6" fill="#141414" stroke="none" stroke-width="1"/>
<circle cx="289.40" cy="463.19" r="1.6" fill="#141414" stroke="none" stroke-width="1"/>
<circle cx="289.40" cy="464.39" r="1.6" fill="#141414" stroke="none" stroke-width="1"/>
<circle cx="289.40" cy="465.60" r="1.6" fill="#141414" stroke="none" stroke-width="1"/>
<circle cx="289.40" cy="466.80" r="1.6" fill="#141414" stroke="none" stroke-width="1"/>
<circle cx="289.40" cy="474.10" r="1.6" fill="#141414" stroke="none" stroke-width="1"/>
<circle cx="326.70" cy="452.10" r="1.6" fill="#141414" stroke="none" stroke-width="1"/>
<circle cx="326.70" cy="453.33" r="1.6" fill="#141414" stroke="none" stroke-width="1"/>
<circle cx="326.70" cy="454.55" r="1.6" fill="#141414" stroke="none" stroke-width="1"/>
<circle cx="326.70" cy="455.78" r="1.6" fill="#141414" stroke="none" stroke-width="1"/>
<circle cx="326.70" cy="457.00" r="1.6" fill="#141414" stroke="none" stroke-width="1"/>
<circle cx="326.70" cy="458.23" r="1.6" fill="#141414" stroke="none" stroke-width="1"/>
<circle cx="326.70" cy="459.45" r="1.6" fill="#141414" stroke="none" stroke-width="1"/>
<circle cx="326.70" cy="460.68" r="1.6" fill="#141414" stroke="none" stroke-width="1"/>
<circle cx="326.70" cy="461.90" r="1.6" fill="#141414" stroke="none" stroke-width="1"/>
<circle cx="326.70" cy="463.12" r="1.6" fill="#141414" stroke="none" stroke-width="1"/>
<circle cx="326.70" cy="464.35" r="1.6" fill="#141414" stroke="none" stroke-width="1"/>
<circle cx="326.70" cy="465.57" r="1.6" fill="#141414" stroke="none" stroke-width="1"/>
<circle cx="326.70" cy="466.80" r="1.6" fill="#141414" stroke="none" stroke-width="1"/>
<circle cx="326.70" cy="468.02" r="1.6" fill="#141414" stroke="none" stroke-width="1"/>
<circle cx="326.70" cy="469.25" r="1.6" fill="#141414" stroke="none" stroke-width="1"/>
<circle cx="326.70" cy="470.47" r="1.6" fill="#141414" stroke="none" stroke-width="1"/>
<circle cx="326.70" cy="471.70" r="1.6" fill="#141414" stroke="none" stroke-width="1"/>
<circle cx="326.70" cy="476.40" r="1.6" fill="#141414" stroke="none" stroke-width="1"/>
<circle cx="326.70" cy="483.60" r="1.6" fill="#141414" stroke="none" stroke-width="1"/>
<circle cx="326.70" cy="485.20" r="1.6" fill="#141414" stroke="none" stroke-width="1"/>
<circle cx="326.70" cy="486.30" r="1.6" fill="#141414" stroke="none" stroke-width="1"/>
<polyline points="259.20,398.00 254.40,398.00 254.40,402.80" fill="none" stroke="#e8352b" stroke-width="1"/>
<polyline points="261.70,398.00 266.50,398.00 266.50,402.80" fill="none" stroke="#e8352b" stroke-width="1"/>
<polyline points="259.20,482.50 254.40,482.50 254.40,477.70" fill="none" stroke="#e8352b" stroke-width="1"/>
<polyline points="261.70,482.50 266.50,482.50 266.50,477.70" fill="none" stroke="#e8352b" stroke-width="1"/>
<line x1="254.40" y1="406.30" x2="254.40" y2="414.70" stroke="#e8352b" stroke-width="1"/>
<line x1="266.50" y1="406.30" x2="266.50" y2="414.70" stroke="#e8352b" stroke-width="1"/>
<line x1="254.40" y1="418.20" x2="254.40" y2="426.60" stroke="#e8352b" stroke-width="1"/>
<line x1="266.50" y1="418.20" x2="266.50" y2="426.60" stroke="#e8352b" stroke-width="1"/>
<line x1="254.40" y1="430.10" x2="254.40" y2="438.50" stroke="#e8352b" stroke-width="1"/>
<line x1="266.50" y1="430.10" x2="266.50" y2="438.50" stroke="#e8352b" stroke-width="1"/>
<line x1="254.40" y1="442.00" x2="254.40" y2="450.40" stroke="#e8352b" stroke-width="1"/>
<line x1="266.50" y1="442.00" x2="266.50" y2="450.40" stroke="#e8352b" stroke-width="1"/>
<line x1="254.40" y1="453.90" x2="254.40" y2="462.30" stroke="#e8352b" stroke-width="1"/>
<line x1="266.50" y1="453.90" x2="266.50" y2="462.30" stroke="#e8352b" stroke-width="1"/>
<line x1="254.40" y1="465.80" x2="254.40" y2="474.20" stroke="#e8352b" stroke-width="1"/>
<line x1="266.50" y1="465.80" x2="266.50" y2="474.20" stroke="#e8352b" stroke-width="1"/>
<rect x="357.50" y="350.60" width="207.00" height="144.40" stroke="#333" stroke-width="1" fill="none"/>
<line x1="449.50" y1="350.60" x2="449.50" y2="359.40" stroke="#888" stroke-width="1"/>
<line x1="449.50" y1="363.00" x2="449.50" y2="495.00" stroke="#888" stroke-width="1" stroke-dasharray="7,3.6"/>
<line x1="357.30" y1="350.60" x2="357.30" y2="352.60" stroke="#333" stroke-width="0.8"/>
<line x1="357.30" y1="495.00" x2="357.30" y2="493.00" stroke="#333" stroke-width="0.8"/>
<line x1="403.50" y1="350.60" x2="403.50" y2="352.60" stroke="#333" stroke-width="0.8"/>
<line x1="403.50" y1="495.00" x2="403.50" y2="493.00" stroke="#333" stroke-width="0.8"/>
<line x1="449.70" y1="350.60" x2="449.70" y2="352.60" stroke="#333" stroke-width="0.8"/>
<line x1="449.70" y1="495.00" x2="449.70" y2="493.00" stroke="#333" stroke-width="0.8"/>
<line x1="495.90" y1="350.60" x2="495.90" y2="352.60" stroke="#333" stroke-width="0.8"/>
<line x1="495.90" y1="495.00" x2="495.90" y2="493.00" stroke="#333" stroke-width="0.8"/>
<line x1="542.10" y1="350.60" x2="542.10" y2="352.60" stroke="#333" stroke-width="0.8"/>
<line x1="542.10" y1="495.00" x2="542.10" y2="493.00" stroke="#333" stroke-width="0.8"/>
<line x1="357.50" y1="491.50" x2="359.50" y2="491.50" stroke="#333" stroke-width="0.8"/>
<line x1="564.50" y1="491.50" x2="562.50" y2="491.50" stroke="#333" stroke-width="0.8"/>
<line x1="357.50" y1="456.20" x2="359.50" y2="456.20" stroke="#333" stroke-width="0.8"/>
<line x1="564.50" y1="456.20" x2="562.50" y2="456.20" stroke="#333" stroke-width="0.8"/>
<line x1="357.50" y1="420.90" x2="359.50" y2="420.90" stroke="#333" stroke-width="0.8"/>
<line x1="564.50" y1="420.90" x2="562.50" y2="420.90" stroke="#333" stroke-width="0.8"/>
<line x1="357.50" y1="385.60" x2="359.50" y2="385.60" stroke="#333" stroke-width="0.8"/>
<line x1="564.50" y1="385.60" x2="562.50" y2="385.60" stroke="#333" stroke-width="0.8"/>
<line x1="357.50" y1="350.30" x2="359.50" y2="350.30" stroke="#333" stroke-width="0.8"/>
<line x1="564.50" y1="350.30" x2="562.50" y2="350.30" stroke="#333" stroke-width="0.8"/>
<text transform="translate(356.87,505.70) scale(0.9638,1)" font-size="10.2" fill="#231f20" stroke="#231f20" stroke-width="0.4">-20</text>
<text transform="translate(398.85,505.70) scale(1.0070,1)" font-size="10.2" fill="#231f20" stroke="#231f20" stroke-width="0.4">-10</text>
<text transform="translate(436.35,505.70) scale(1.0084,1)" font-size="10.2" fill="#231f20" stroke="#231f20" stroke-width="0.4">Injection</text>
<text transform="translate(493.16,505.70) scale(1.0806,1)" font-size="10.2" fill="#231f20" stroke="#231f20" stroke-width="0.4">10</text>
<text transform="translate(540.16,505.70) scale(1.0532,1)" font-size="10.2" fill="#231f20" stroke="#231f20" stroke-width="0.4">20</text>
<text transform="translate(413.69,521.00) scale(0.9883,1)" font-size="10" fill="#231f20" stroke="#231f20" stroke-width="0.4">Polarization time delay [s]</text>
<text transform="translate(362.62,366.90) scale(1.0242,1)" font-size="10" fill="#e8352b" stroke="#e8352b" stroke-width="0.4">116 mV/mm</text>
<circle cx="380.10" cy="403.40" r="1.6" fill="#a9a9a9" stroke="none" stroke-width="1"/>
<circle cx="380.10" cy="406.00" r="1.6" fill="#141414" stroke="none" stroke-width="1"/>
<circle cx="380.10" cy="418.70" r="1.6" fill="#a9a9a9" stroke="none" stroke-width="1"/>
<circle cx="380.10" cy="437.10" r="1.6" fill="#141414" stroke="none" stroke-width="1"/>
<circle cx="380.10" cy="439.00" r="1.6" fill="#141414" stroke="none" stroke-width="1"/>
<circle cx="380.10" cy="441.00" r="1.6" fill="#141414" stroke="none" stroke-width="1"/>
<circle cx="380.10" cy="444.90" r="1.6" fill="#141414" stroke="none" stroke-width="1"/>
<circle cx="380.10" cy="447.50" r="1.6" fill="#141414" stroke="none" stroke-width="1"/>
<circle cx="380.10" cy="454.00" r="1.6" fill="#141414" stroke="none" stroke-width="1"/>
<circle cx="380.10" cy="455.90" r="1.6" fill="#141414" stroke="none" stroke-width="1"/>
<circle cx="380.10" cy="457.80" r="1.6" fill="#141414" stroke="none" stroke-width="1"/>
<circle cx="380.10" cy="459.80" r="1.6" fill="#141414" stroke="none" stroke-width="1"/>
<circle cx="380.10" cy="465.70" r="1.6" fill="#141414" stroke="none" stroke-width="1"/>
<circle cx="380.10" cy="467.05" r="1.6" fill="#141414" stroke="none" stroke-width="1"/>
<circle cx="380.10" cy="468.41" r="1.6" fill="#141414" stroke="none" stroke-width="1"/>
<circle cx="380.10" cy="469.76" r="1.6" fill="#141414" stroke="none" stroke-width="1"/>
<circle cx="380.10" cy="471.12" r="1.6" fill="#141414" stroke="none" stroke-width="1"/>
<circle cx="380.10" cy="472.47" r="1.6" fill="#141414" stroke="none" stroke-width="1"/>
<circle cx="380.10" cy="473.83" r="1.6" fill="#141414" stroke="none" stroke-width="1"/>
<circle cx="380.10" cy="475.18" r="1.6" fill="#141414" stroke="none" stroke-width="1"/>
<circle cx="380.10" cy="476.54" r="1.6" fill="#141414" stroke="none" stroke-width="1"/>
<circle cx="380.10" cy="477.89" r="1.6" fill="#141414" stroke="none" stroke-width="1"/>
<circle cx="380.10" cy="479.25" r="1.6" fill="#141414" stroke="none" stroke-width="1"/>
<circle cx="380.10" cy="480.60" r="1.6" fill="#141414" stroke="none" stroke-width="1"/>
<circle cx="380.10" cy="486.40" r="1.6" fill="#141414" stroke="none" stroke-width="1"/>
<circle cx="380.10" cy="490.70" r="1.6" fill="#141414" stroke="none" stroke-width="1"/>
<circle cx="472.30" cy="405.10" r="1.6" fill="#a9a9a9" stroke="none" stroke-width="1"/>
<circle cx="472.30" cy="409.90" r="1.6" fill="#a9a9a9" stroke="none" stroke-width="1"/>
<circle cx="472.30" cy="418.30" r="1.6" fill="#a9a9a9" stroke="none" stroke-width="1"/>
<circle cx="472.30" cy="420.30" r="1.6" fill="#a9a9a9" stroke="none" stroke-width="1"/>
<circle cx="472.30" cy="426.80" r="1.6" fill="#a9a9a9" stroke="none" stroke-width="1"/>
<circle cx="472.30" cy="429.40" r="1.6" fill="#a9a9a9" stroke="none" stroke-width="1"/>
<circle cx="472.30" cy="439.70" r="1.6" fill="#141414" stroke="none" stroke-width="1"/>
<circle cx="472.30" cy="444.30" r="1.6" fill="#a9a9a9" stroke="none" stroke-width="1"/>
<circle cx="472.30" cy="447.50" r="1.6" fill="#141414" stroke="none" stroke-width="1"/>
<circle cx="472.30" cy="453.30" r="1.6" fill="#141414" stroke="none" stroke-width="1"/>
<circle cx="472.30" cy="454.73" r="1.6" fill="#141414" stroke="none" stroke-width="1"/>
<circle cx="472.30" cy="456.16" r="1.6" fill="#141414" stroke="none" stroke-width="1"/>
<circle cx="472.30" cy="457.59" r="1.6" fill="#141414" stroke="none" stroke-width="1"/>
<circle cx="472.30" cy="459.02" r="1.6" fill="#141414" stroke="none" stroke-width="1"/>
<circle cx="472.30" cy="460.45" r="1.6" fill="#141414" stroke="none" stroke-width="1"/>
<circle cx="472.30" cy="461.88" r="1.6" fill="#141414" stroke="none" stroke-width="1"/>
<circle cx="472.30" cy="463.31" r="1.6" fill="#141414" stroke="none" stroke-width="1"/>
<circle cx="472.30" cy="464.74" r="1.6" fill="#141414" stroke="none" stroke-width="1"/>
<circle cx="472.30" cy="466.17" r="1.6" fill="#141414" stroke="none" stroke-width="1"/>
<circle cx="472.30" cy="467.60" r="1.6" fill="#141414" stroke="none" stroke-width="1"/>
<circle cx="472.30" cy="472.10" r="1.6" fill="#141414" stroke="none" stroke-width="1"/>
<circle cx="472.30" cy="474.50" r="1.6" fill="#141414" stroke="none" stroke-width="1"/>
<circle cx="472.30" cy="477.00" r="1.6" fill="#141414" stroke="none" stroke-width="1"/>
<circle cx="472.30" cy="479.50" r="1.6" fill="#141414" stroke="none" stroke-width="1"/>
<circle cx="472.30" cy="481.90" r="1.6" fill="#141414" stroke="none" stroke-width="1"/>
<circle cx="472.30" cy="488.30" r="1.6" fill="#141414" stroke="none" stroke-width="1"/>
<circle cx="495.40" cy="407.30" r="1.6" fill="#a9a9a9" stroke="none" stroke-width="1"/>
<circle cx="495.40" cy="409.24" r="1.6" fill="#a9a9a9" stroke="none" stroke-width="1"/>
<circle cx="495.40" cy="411.19" r="1.6" fill="#a9a9a9" stroke="none" stroke-width="1"/>
<circle cx="495.40" cy="413.13" r="1.6" fill="#a9a9a9" stroke="none" stroke-width="1"/>
<circle cx="495.40" cy="415.08" r="1.6" fill="#a9a9a9" stroke="none" stroke-width="1"/>
<circle cx="495.40" cy="417.02" r="1.6" fill="#a9a9a9" stroke="none" stroke-width="1"/>
<circle cx="495.40" cy="418.97" r="1.6" fill="#a9a9a9" stroke="none" stroke-width="1"/>
<circle cx="495.40" cy="420.91" r="1.6" fill="#a9a9a9" stroke="none" stroke-width="1"/>
<circle cx="495.40" cy="422.86" r="1.6" fill="#a9a9a9" stroke="none" stroke-width="1"/>
<circle cx="495.40" cy="424.80" r="1.6" fill="#a9a9a9" stroke="none" stroke-width="1"/>
<circle cx="495.40" cy="432.00" r="1.6" fill="#141414" stroke="none" stroke-width="1"/>
<circle cx="495.40" cy="434.20" r="1.6" fill="#141414" stroke="none" stroke-width="1"/>
<circle cx="495.40" cy="436.50" r="1.6" fill="#141414" stroke="none" stroke-width="1"/>
<circle cx="495.40" cy="441.00" r="1.6" fill="#141414" stroke="none" stroke-width="1"/>
<circle cx="495.40" cy="442.30" r="1.6" fill="#141414" stroke="none" stroke-width="1"/>
<circle cx="495.40" cy="443.60" r="1.6" fill="#141414" stroke="none" stroke-width="1"/>
<circle cx="495.40" cy="444.90" r="1.6" fill="#141414" stroke="none" stroke-width="1"/>
<circle cx="495.40" cy="446.20" r="1.6" fill="#141414" stroke="none" stroke-width="1"/>
<circle cx="495.40" cy="447.50" r="1.6" fill="#141414" stroke="none" stroke-width="1"/>
<circle cx="495.40" cy="448.80" r="1.6" fill="#141414" stroke="none" stroke-width="1"/>
<circle cx="495.40" cy="450.10" r="1.6" fill="#141414" stroke="none" stroke-width="1"/>
<circle cx="495.40" cy="457.90" r="1.6" fill="#141414" stroke="none" stroke-width="1"/>
<circle cx="495.40" cy="462.20" r="1.6" fill="#141414" stroke="none" stroke-width="1"/>
<circle cx="495.40" cy="466.70" r="1.6" fill="#141414" stroke="none" stroke-width="1"/>
<circle cx="495.40" cy="475.40" r="1.6" fill="#141414" stroke="none" stroke-width="1"/>
<circle cx="551.10" cy="395.60" r="1.6" fill="#a9a9a9" stroke="none" stroke-width="1"/>
<circle cx="551.10" cy="401.40" r="1.6" fill="#141414" stroke="none" stroke-width="1"/>
<circle cx="551.10" cy="405.00" r="1.6" fill="#a9a9a9" stroke="none" stroke-width="1"/>
<circle cx="551.10" cy="407.50" r="1.6" fill="#a9a9a9" stroke="none" stroke-width="1"/>
<circle cx="551.10" cy="410.00" r="1.6" fill="#a9a9a9" stroke="none" stroke-width="1"/>
<circle cx="551.10" cy="412.50" r="1.6" fill="#a9a9a9" stroke="none" stroke-width="1"/>
<circle cx="551.10" cy="415.00" r="1.6" fill="#a9a9a9" stroke="none" stroke-width="1"/>
<circle cx="551.10" cy="420.60" r="1.6" fill="#a9a9a9" stroke="none" stroke-width="1"/>
<circle cx="551.10" cy="423.90" r="1.6" fill="#a9a9a9" stroke="none" stroke-width="1"/>
<circle cx="551.10" cy="426.70" r="1.6" fill="#141414" stroke="none" stroke-width="1"/>
<circle cx="551.10" cy="436.10" r="1.6" fill="#141414" stroke="none" stroke-width="1"/>
<circle cx="551.10" cy="440.00" r="1.6" fill="#141414" stroke="none" stroke-width="1"/>
<circle cx="551.10" cy="441.70" r="1.6" fill="#141414" stroke="none" stroke-width="1"/>
<circle cx="551.10" cy="445.60" r="1.6" fill="#a9a9a9" stroke="none" stroke-width="1"/>
<circle cx="551.10" cy="447.80" r="1.6" fill="#141414" stroke="none" stroke-width="1"/>
<circle cx="551.10" cy="449.12" r="1.6" fill="#141414" stroke="none" stroke-width="1"/>
<circle cx="551.10" cy="450.44" r="1.6" fill="#141414" stroke="none" stroke-width="1"/>
<circle cx="551.10" cy="451.76" r="1.6" fill="#141414" stroke="none" stroke-width="1"/>
<circle cx="551.10" cy="453.08" r="1.6" fill="#141414" stroke="none" stroke-width="1"/>
<circle cx="551.10" cy="454.40" r="1.6" fill="#141414" stroke="none" stroke-width="1"/>
<circle cx="551.10" cy="463.70" r="1.6" fill="#141414" stroke="none" stroke-width="1"/>
<circle cx="551.10" cy="467.20" r="1.6" fill="#141414" stroke="none" stroke-width="1"/>
<polyline points="494.10,398.80 489.30,398.80 489.30,403.60" fill="none" stroke="#e8352b" stroke-width="1"/>
<polyline points="496.70,398.80 501.50,398.80 501.50,403.60" fill="none" stroke="#e8352b" stroke-width="1"/>
<polyline points="494.10,484.00 489.30,484.00 489.30,479.20" fill="none" stroke="#e8352b" stroke-width="1"/>
<polyline points="496.70,484.00 501.50,484.00 501.50,479.20" fill="none" stroke="#e8352b" stroke-width="1"/>
<line x1="489.30" y1="407.20" x2="489.30" y2="415.60" stroke="#e8352b" stroke-width="1"/>
<line x1="501.50" y1="407.20" x2="501.50" y2="415.60" stroke="#e8352b" stroke-width="1"/>
<line x1="489.30" y1="419.20" x2="489.30" y2="427.60" stroke="#e8352b" stroke-width="1"/>
<line x1="501.50" y1="419.20" x2="501.50" y2="427.60" stroke="#e8352b" stroke-width="1"/>
<line x1="489.30" y1="431.20" x2="489.30" y2="439.60" stroke="#e8352b" stroke-width="1"/>
<line x1="501.50" y1="431.20" x2="501.50" y2="439.60" stroke="#e8352b" stroke-width="1"/>
<line x1="489.30" y1="443.20" x2="489.30" y2="451.60" stroke="#e8352b" stroke-width="1"/>
<line x1="501.50" y1="443.20" x2="501.50" y2="451.60" stroke="#e8352b" stroke-width="1"/>
<line x1="489.30" y1="455.20" x2="489.30" y2="463.60" stroke="#e8352b" stroke-width="1"/>
<line x1="501.50" y1="455.20" x2="501.50" y2="463.60" stroke="#e8352b" stroke-width="1"/>
<line x1="489.30" y1="467.20" x2="489.30" y2="475.60" stroke="#e8352b" stroke-width="1"/>
<line x1="501.50" y1="467.20" x2="501.50" y2="475.60" stroke="#e8352b" stroke-width="1"/>
<rect x="576.20" y="350.60" width="32.50" height="144.80" stroke="#333" stroke-width="1" fill="none"/>
<line x1="592.50" y1="350.60" x2="592.50" y2="352.60" stroke="#333" stroke-width="0.8"/>
<line x1="592.50" y1="495.40" x2="592.50" y2="493.40" stroke="#333" stroke-width="0.8"/>
<line x1="576.20" y1="491.50" x2="578.20" y2="491.50" stroke="#333" stroke-width="0.8"/>
<line x1="608.70" y1="491.50" x2="606.70" y2="491.50" stroke="#333" stroke-width="0.8"/>
<line x1="576.20" y1="456.20" x2="578.20" y2="456.20" stroke="#333" stroke-width="0.8"/>
<line x1="608.70" y1="456.20" x2="606.70" y2="456.20" stroke="#333" stroke-width="0.8"/>
<line x1="576.20" y1="420.90" x2="578.20" y2="420.90" stroke="#333" stroke-width="0.8"/>
<line x1="608.70" y1="420.90" x2="606.70" y2="420.90" stroke="#333" stroke-width="0.8"/>
<line x1="576.20" y1="385.60" x2="578.20" y2="385.60" stroke="#333" stroke-width="0.8"/>
<line x1="608.70" y1="385.60" x2="606.70" y2="385.60" stroke="#333" stroke-width="0.8"/>
<line x1="576.20" y1="350.30" x2="578.20" y2="350.30" stroke="#333" stroke-width="0.8"/>
<line x1="608.70" y1="350.30" x2="606.70" y2="350.30" stroke="#333" stroke-width="0.8"/>
<circle cx="592.50" cy="395.40" r="1.6" fill="#a9a9a9" stroke="none" stroke-width="1"/>
<circle cx="592.50" cy="396.90" r="1.6" fill="#a9a9a9" stroke="none" stroke-width="1"/>
<circle cx="592.50" cy="398.40" r="1.6" fill="#a9a9a9" stroke="none" stroke-width="1"/>
<circle cx="592.50" cy="399.90" r="1.6" fill="#a9a9a9" stroke="none" stroke-width="1"/>
<circle cx="592.50" cy="402.80" r="1.6" fill="#a9a9a9" stroke="none" stroke-width="1"/>
<circle cx="592.50" cy="404.00" r="1.6" fill="#a9a9a9" stroke="none" stroke-width="1"/>
<circle cx="592.50" cy="405.20" r="1.6" fill="#a9a9a9" stroke="none" stroke-width="1"/>
<circle cx="592.50" cy="406.40" r="1.6" fill="#a9a9a9" stroke="none" stroke-width="1"/>
<circle cx="592.50" cy="407.60" r="1.6" fill="#a9a9a9" stroke="none" stroke-width="1"/>
<circle cx="592.50" cy="408.80" r="1.6" fill="#a9a9a9" stroke="none" stroke-width="1"/>
<circle cx="592.50" cy="410.00" r="1.6" fill="#a9a9a9" stroke="none" stroke-width="1"/>
<circle cx="592.50" cy="411.20" r="1.6" fill="#a9a9a9" stroke="none" stroke-width="1"/>
<circle cx="592.50" cy="412.40" r="1.6" fill="#a9a9a9" stroke="none" stroke-width="1"/>
<circle cx="592.50" cy="413.60" r="1.6" fill="#a9a9a9" stroke="none" stroke-width="1"/>
<circle cx="592.50" cy="414.80" r="1.6" fill="#a9a9a9" stroke="none" stroke-width="1"/>
<circle cx="592.50" cy="416.00" r="1.6" fill="#a9a9a9" stroke="none" stroke-width="1"/>
<circle cx="592.50" cy="417.20" r="1.6" fill="#a9a9a9" stroke="none" stroke-width="1"/>
<circle cx="592.50" cy="418.40" r="1.6" fill="#a9a9a9" stroke="none" stroke-width="1"/>
<circle cx="592.50" cy="419.60" r="1.6" fill="#a9a9a9" stroke="none" stroke-width="1"/>
<circle cx="592.50" cy="420.80" r="1.6" fill="#a9a9a9" stroke="none" stroke-width="1"/>
<circle cx="592.50" cy="422.00" r="1.6" fill="#a9a9a9" stroke="none" stroke-width="1"/>
<circle cx="592.50" cy="423.20" r="1.6" fill="#a9a9a9" stroke="none" stroke-width="1"/>
<circle cx="592.50" cy="424.40" r="1.6" fill="#a9a9a9" stroke="none" stroke-width="1"/>
<circle cx="592.50" cy="425.60" r="1.6" fill="#a9a9a9" stroke="none" stroke-width="1"/>
<circle cx="592.50" cy="427.10" r="1.6" fill="#a9a9a9" stroke="none" stroke-width="1"/>
<circle cx="592.50" cy="428.58" r="1.6" fill="#a9a9a9" stroke="none" stroke-width="1"/>
<circle cx="592.50" cy="430.07" r="1.6" fill="#a9a9a9" stroke="none" stroke-width="1"/>
<circle cx="592.50" cy="431.55" r="1.6" fill="#a9a9a9" stroke="none" stroke-width="1"/>
<circle cx="592.50" cy="433.03" r="1.6" fill="#a9a9a9" stroke="none" stroke-width="1"/>
<circle cx="592.50" cy="434.52" r="1.6" fill="#a9a9a9" stroke="none" stroke-width="1"/>
<circle cx="592.50" cy="436.00" r="1.6" fill="#a9a9a9" stroke="none" stroke-width="1"/>
<circle cx="592.50" cy="439.00" r="1.6" fill="#a9a9a9" stroke="none" stroke-width="1"/>
<circle cx="592.50" cy="440.48" r="1.6" fill="#a9a9a9" stroke="none" stroke-width="1"/>
<circle cx="592.50" cy="441.95" r="1.6" fill="#a9a9a9" stroke="none" stroke-width="1"/>
<circle cx="592.50" cy="443.42" r="1.6" fill="#a9a9a9" stroke="none" stroke-width="1"/>
<circle cx="592.50" cy="444.90" r="1.6" fill="#a9a9a9" stroke="none" stroke-width="1"/>
<circle cx="592.50" cy="449.60" r="1.6" fill="#a9a9a9" stroke="none" stroke-width="1"/>
<circle cx="592.50" cy="458.80" r="1.6" fill="#a9a9a9" stroke="none" stroke-width="1"/>
<text transform="translate(585.60,506.50) scale(1.0000,1)" font-size="10" fill="#231f20" stroke="#231f20" stroke-width="0.4">Ctrl</text>
<text transform="translate(45.02,559.50) scale(0.9681,1)" font-size="10" fill="#231f20" stroke="#231f20" stroke-width="0.4">CSD propagation arrest rate:</text>
<text transform="translate(134.58,576.30) scale(1.0000,1)" font-size="10" fill="#231f20" stroke="#231f20" stroke-width="0.4">as a function of field strength</text>
<text transform="translate(360.18,576.00) scale(1.0018,1)" font-size="10" fill="#231f20" stroke="#231f20" stroke-width="0.4">as a function of polarization time delay (from injection)</text>
<rect x="79.50" y="583.50" width="251.20" height="198.30" stroke="#8c8c8c" stroke-width="1" fill="none"/>
<line x1="79.50" y1="781.30" x2="81.70" y2="781.30" stroke="#8c8c8c" stroke-width="0.9"/>
<line x1="330.70" y1="781.30" x2="328.50" y2="781.30" stroke="#8c8c8c" stroke-width="0.9"/>
<line x1="79.50" y1="763.30" x2="81.70" y2="763.30" stroke="#8c8c8c" stroke-width="0.9"/>
<line x1="330.70" y1="763.30" x2="328.50" y2="763.30" stroke="#8c8c8c" stroke-width="0.9"/>
<line x1="79.50" y1="745.30" x2="81.70" y2="745.30" stroke="#8c8c8c" stroke-width="0.9"/>
<line x1="330.70" y1="745.30" x2="328.50" y2="745.30" stroke="#8c8c8c" stroke-width="0.9"/>
<line x1="79.50" y1="727.30" x2="81.70" y2="727.30" stroke="#8c8c8c" stroke-width="0.9"/>
<line x1="330.70" y1="727.30" x2="328.50" y2="727.30" stroke="#8c8c8c" stroke-width="0.9"/>
<line x1="79.50" y1="709.30" x2="81.70" y2="709.30" stroke="#8c8c8c" stroke-width="0.9"/>
<line x1="330.70" y1="709.30" x2="328.50" y2="709.30" stroke="#8c8c8c" stroke-width="0.9"/>
<line x1="79.50" y1="691.30" x2="81.70" y2="691.30" stroke="#8c8c8c" stroke-width="0.9"/>
<line x1="330.70" y1="691.30" x2="328.50" y2="691.30" stroke="#8c8c8c" stroke-width="0.9"/>
<line x1="79.50" y1="673.30" x2="81.70" y2="673.30" stroke="#8c8c8c" stroke-width="0.9"/>
<line x1="330.70" y1="673.30" x2="328.50" y2="673.30" stroke="#8c8c8c" stroke-width="0.9"/>
<line x1="79.50" y1="655.30" x2="81.70" y2="655.30" stroke="#8c8c8c" stroke-width="0.9"/>
<line x1="330.70" y1="655.30" x2="328.50" y2="655.30" stroke="#8c8c8c" stroke-width="0.9"/>
<line x1="79.50" y1="637.30" x2="81.70" y2="637.30" stroke="#8c8c8c" stroke-width="0.9"/>
<line x1="330.70" y1="637.30" x2="328.50" y2="637.30" stroke="#8c8c8c" stroke-width="0.9"/>
<line x1="79.50" y1="619.30" x2="81.70" y2="619.30" stroke="#8c8c8c" stroke-width="0.9"/>
<line x1="330.70" y1="619.30" x2="328.50" y2="619.30" stroke="#8c8c8c" stroke-width="0.9"/>
<line x1="79.50" y1="601.30" x2="81.70" y2="601.30" stroke="#8c8c8c" stroke-width="0.9"/>
<line x1="330.70" y1="601.30" x2="328.50" y2="601.30" stroke="#8c8c8c" stroke-width="0.9"/>
<rect x="347.80" y="583.50" width="251.40" height="198.30" stroke="#8c8c8c" stroke-width="1" fill="none"/>
<line x1="347.80" y1="781.30" x2="350.00" y2="781.30" stroke="#8c8c8c" stroke-width="0.9"/>
<line x1="599.20" y1="781.30" x2="597.00" y2="781.30" stroke="#8c8c8c" stroke-width="0.9"/>
<line x1="347.80" y1="763.30" x2="350.00" y2="763.30" stroke="#8c8c8c" stroke-width="0.9"/>
<line x1="599.20" y1="763.30" x2="597.00" y2="763.30" stroke="#8c8c8c" stroke-width="0.9"/>
<line x1="347.80" y1="745.30" x2="350.00" y2="745.30" stroke="#8c8c8c" stroke-width="0.9"/>
<line x1="599.20" y1="745.30" x2="597.00" y2="745.30" stroke="#8c8c8c" stroke-width="0.9"/>
<line x1="347.80" y1="727.30" x2="350.00" y2="727.30" stroke="#8c8c8c" stroke-width="0.9"/>
<line x1="599.20" y1="727.30" x2="597.00" y2="727.30" stroke="#8c8c8c" stroke-width="0.9"/>
<line x1="347.80" y1="709.30" x2="350.00" y2="709.30" stroke="#8c8c8c" stroke-width="0.9"/>
<line x1="599.20" y1="709.30" x2="597.00" y2="709.30" stroke="#8c8c8c" stroke-width="0.9"/>
<line x1="347.80" y1="691.30" x2="350.00" y2="691.30" stroke="#8c8c8c" stroke-width="0.9"/>
<line x1="599.20" y1="691.30" x2="597.00" y2="691.30" stroke="#8c8c8c" stroke-width="0.9"/>
<line x1="347.80" y1="673.30" x2="350.00" y2="673.30" stroke="#8c8c8c" stroke-width="0.9"/>
<line x1="599.20" y1="673.30" x2="597.00" y2="673.30" stroke="#8c8c8c" stroke-width="0.9"/>
<line x1="347.80" y1="655.30" x2="350.00" y2="655.30" stroke="#8c8c8c" stroke-width="0.9"/>
<line x1="599.20" y1="655.30" x2="597.00" y2="655.30" stroke="#8c8c8c" stroke-width="0.9"/>
<line x1="347.80" y1="637.30" x2="350.00" y2="637.30" stroke="#8c8c8c" stroke-width="0.9"/>
<line x1="599.20" y1="637.30" x2="597.00" y2="637.30" stroke="#8c8c8c" stroke-width="0.9"/>
<line x1="347.80" y1="619.30" x2="350.00" y2="619.30" stroke="#8c8c8c" stroke-width="0.9"/>
<line x1="599.20" y1="619.30" x2="597.00" y2="619.30" stroke="#8c8c8c" stroke-width="0.9"/>
<line x1="347.80" y1="601.30" x2="350.00" y2="601.30" stroke="#8c8c8c" stroke-width="0.9"/>
<line x1="599.20" y1="601.30" x2="597.00" y2="601.30" stroke="#8c8c8c" stroke-width="0.9"/>
<text transform="translate(69.08,784.10) scale(1.0000,1)" font-size="9.5" fill="#231f20" stroke="#231f20" stroke-width="0.4">0</text>
<text transform="translate(63.80,766.10) scale(1.0000,1)" font-size="9.5" fill="#231f20" stroke="#231f20" stroke-width="0.4">10</text>
<text transform="translate(63.80,748.10) scale(1.0000,1)" font-size="9.5" fill="#231f20" stroke="#231f20" stroke-width="0.4">20</text>
<text transform="translate(63.80,730.10) scale(1.0000,1)" font-size="9.5" fill="#231f20" stroke="#231f20" stroke-width="0.4">30</text>
<text transform="translate(63.80,712.10) scale(1.0000,1)" font-size="9.5" fill="#231f20" stroke="#231f20" stroke-width="0.4">40</text>
<text transform="translate(63.80,694.10) scale(1.0000,1)" font-size="9.5" fill="#231f20" stroke="#231f20" stroke-width="0.4">50</text>
<text transform="translate(63.80,676.10) scale(1.0000,1)" font-size="9.5" fill="#231f20" stroke="#231f20" stroke-width="0.4">60</text>
<text transform="translate(63.80,658.10) scale(1.0000,1)" font-size="9.5" fill="#231f20" stroke="#231f20" stroke-width="0.4">70</text>
<text transform="translate(63.80,640.10) scale(1.0000,1)" font-size="9.5" fill="#231f20" stroke="#231f20" stroke-width="0.4">80</text>
<text transform="translate(63.80,622.10) scale(1.0000,1)" font-size="9.5" fill="#231f20" stroke="#231f20" stroke-width="0.4">90</text>
<text transform="translate(59.17,604.10) scale(1.0161,1)" font-size="9.5" fill="#231f20" stroke="#231f20" stroke-width="0.4">100</text>
<line x1="79.50" y1="583.50" x2="79.50" y2="585.70" stroke="#8c8c8c" stroke-width="0.9"/>
<line x1="79.50" y1="781.80" x2="79.50" y2="779.60" stroke="#8c8c8c" stroke-width="0.9"/>
<text transform="translate(74.48,793.20) scale(1.0517,1)" font-size="9.4" fill="#231f20" stroke="#231f20" stroke-width="0.4">40</text>
<line x1="106.62" y1="583.50" x2="106.62" y2="585.70" stroke="#8c8c8c" stroke-width="0.9"/>
<line x1="106.62" y1="781.80" x2="106.62" y2="779.60" stroke="#8c8c8c" stroke-width="0.9"/>
<text transform="translate(101.58,793.20) scale(1.0805,1)" font-size="9.4" fill="#231f20" stroke="#231f20" stroke-width="0.4">60</text>
<line x1="133.74" y1="583.50" x2="133.74" y2="585.70" stroke="#8c8c8c" stroke-width="0.9"/>
<line x1="133.74" y1="781.80" x2="133.74" y2="779.60" stroke="#8c8c8c" stroke-width="0.9"/>
<text transform="translate(129.04,793.20) scale(1.0731,1)" font-size="9.4" fill="#231f20" stroke="#231f20" stroke-width="0.4">80</text>
<line x1="160.86" y1="583.50" x2="160.86" y2="585.70" stroke="#8c8c8c" stroke-width="0.9"/>
<line x1="160.86" y1="781.80" x2="160.86" y2="779.60" stroke="#8c8c8c" stroke-width="0.9"/>
<text transform="translate(153.83,793.20) scale(1.0269,1)" font-size="9.4" fill="#231f20" stroke="#231f20" stroke-width="0.4">100</text>
<line x1="187.98" y1="583.50" x2="187.98" y2="585.70" stroke="#8c8c8c" stroke-width="0.9"/>
<line x1="187.98" y1="781.80" x2="187.98" y2="779.60" stroke="#8c8c8c" stroke-width="0.9"/>
<text transform="translate(181.21,793.20) scale(1.0269,1)" font-size="9.4" fill="#231f20" stroke="#231f20" stroke-width="0.4">120</text>
<line x1="215.10" y1="583.50" x2="215.10" y2="585.70" stroke="#8c8c8c" stroke-width="0.9"/>
<line x1="215.10" y1="781.80" x2="215.10" y2="779.60" stroke="#8c8c8c" stroke-width="0.9"/>
<text transform="translate(208.60,793.20) scale(1.0269,1)" font-size="9.4" fill="#231f20" stroke="#231f20" stroke-width="0.4">140</text>
<line x1="242.22" y1="583.50" x2="242.22" y2="585.70" stroke="#8c8c8c" stroke-width="0.9"/>
<line x1="242.22" y1="781.80" x2="242.22" y2="779.60" stroke="#8c8c8c" stroke-width="0.9"/>
<text transform="translate(235.99,793.20) scale(1.0269,1)" font-size="9.4" fill="#231f20" stroke="#231f20" stroke-width="0.4">160</text>
<line x1="269.34" y1="583.50" x2="269.34" y2="585.70" stroke="#8c8c8c" stroke-width="0.9"/>
<line x1="269.34" y1="781.80" x2="269.34" y2="779.60" stroke="#8c8c8c" stroke-width="0.9"/>
<text transform="translate(263.11,793.20) scale(1.0269,1)" font-size="9.4" fill="#231f20" stroke="#231f20" stroke-width="0.4">180</text>
<line x1="296.46" y1="583.50" x2="296.46" y2="585.70" stroke="#8c8c8c" stroke-width="0.9"/>
<line x1="296.46" y1="781.80" x2="296.46" y2="779.60" stroke="#8c8c8c" stroke-width="0.9"/>
<text transform="translate(290.49,793.20) scale(1.0100,1)" font-size="9.4" fill="#231f20" stroke="#231f20" stroke-width="0.4">200</text>
<line x1="323.58" y1="583.50" x2="323.58" y2="585.70" stroke="#8c8c8c" stroke-width="0.9"/>
<line x1="323.58" y1="781.80" x2="323.58" y2="779.60" stroke="#8c8c8c" stroke-width="0.9"/>
<text transform="translate(317.61,793.20) scale(1.0100,1)" font-size="9.4" fill="#231f20" stroke="#231f20" stroke-width="0.4">220</text>
<text transform="translate(52.00,716.12) rotate(-90) scale(0.9845,1)" font-size="10" fill="#231f20" stroke="#231f20" stroke-width="0.4">Arrest rate [%]</text>
<text transform="translate(140.18,808.00) scale(1.0047,1)" font-size="10" fill="#231f20" stroke="#231f20" stroke-width="0.4">Applied electric field [mV/mm]</text>
<line x1="359.30" y1="583.50" x2="359.30" y2="585.70" stroke="#8c8c8c" stroke-width="0.9"/>
<line x1="359.30" y1="781.80" x2="359.30" y2="779.60" stroke="#8c8c8c" stroke-width="0.9"/>
<text transform="translate(352.26,793.10) scale(1.0000,1)" font-size="10" fill="#231f20" stroke="#231f20" stroke-width="0.4">-15</text>
<line x1="387.90" y1="583.50" x2="387.90" y2="585.70" stroke="#8c8c8c" stroke-width="0.9"/>
<line x1="387.90" y1="781.80" x2="387.90" y2="779.60" stroke="#8c8c8c" stroke-width="0.9"/>
<text transform="translate(380.46,793.10) scale(0.9978,1)" font-size="10" fill="#231f20" stroke="#231f20" stroke-width="0.4">-10</text>
<line x1="416.50" y1="583.50" x2="416.50" y2="585.70" stroke="#8c8c8c" stroke-width="0.9"/>
<line x1="416.50" y1="781.80" x2="416.50" y2="779.60" stroke="#8c8c8c" stroke-width="0.9"/>
<text transform="translate(411.06,793.10) scale(1.0075,1)" font-size="10" fill="#231f20" stroke="#231f20" stroke-width="0.4">-5</text>
<line x1="445.10" y1="583.50" x2="445.10" y2="585.70" stroke="#8c8c8c" stroke-width="0.9"/>
<line x1="445.10" y1="781.80" x2="445.10" y2="779.60" stroke="#8c8c8c" stroke-width="0.9"/>
<text transform="translate(425.92,793.10) scale(1.0622,1)" font-size="10" fill="#231f20" stroke="#231f20" stroke-width="0.4">Injection</text>
<line x1="473.70" y1="583.50" x2="473.70" y2="585.70" stroke="#8c8c8c" stroke-width="0.9"/>
<line x1="473.70" y1="781.80" x2="473.70" y2="779.60" stroke="#8c8c8c" stroke-width="0.9"/>
<text transform="translate(471.30,793.10) scale(0.9895,1)" font-size="10" fill="#231f20" stroke="#231f20" stroke-width="0.4">5</text>
<line x1="502.30" y1="583.50" x2="502.30" y2="585.70" stroke="#8c8c8c" stroke-width="0.9"/>
<line x1="502.30" y1="781.80" x2="502.30" y2="779.60" stroke="#8c8c8c" stroke-width="0.9"/>
<text transform="translate(498.01,793.10) scale(1.0421,1)" font-size="10" fill="#231f20" stroke="#231f20" stroke-width="0.4">10</text>
<line x1="530.90" y1="583.50" x2="530.90" y2="585.70" stroke="#8c8c8c" stroke-width="0.9"/>
<line x1="530.90" y1="781.80" x2="530.90" y2="779.60" stroke="#8c8c8c" stroke-width="0.9"/>
<text transform="translate(525.81,793.10) scale(1.0452,1)" font-size="10" fill="#231f20" stroke="#231f20" stroke-width="0.4">15</text>
<line x1="559.50" y1="583.50" x2="559.50" y2="585.70" stroke="#8c8c8c" stroke-width="0.9"/>
<line x1="559.50" y1="781.80" x2="559.50" y2="779.60" stroke="#8c8c8c" stroke-width="0.9"/>
<text transform="translate(555.07,793.10) scale(1.0547,1)" font-size="10" fill="#231f20" stroke="#231f20" stroke-width="0.4">20</text>
<line x1="588.10" y1="583.50" x2="588.10" y2="585.70" stroke="#8c8c8c" stroke-width="0.9"/>
<line x1="588.10" y1="781.80" x2="588.10" y2="779.60" stroke="#8c8c8c" stroke-width="0.9"/>
<text transform="translate(582.87,793.10) scale(1.0578,1)" font-size="10" fill="#231f20" stroke="#231f20" stroke-width="0.4">25</text>
<line x1="445.20" y1="583.50" x2="445.20" y2="593.40" stroke="#999" stroke-width="1"/>
<line x1="445.20" y1="598.50" x2="445.20" y2="781.80" stroke="#999" stroke-width="1" stroke-dasharray="5.2,5.4"/>
<text transform="translate(419.19,807.70) scale(0.9875,1)" font-size="10" fill="#231f20" stroke="#231f20" stroke-width="0.4">Polarization time delay [s]</text>
<polyline points="98.48,720.10 132.38,629.56 182.56,612.82" fill="none" stroke="#e2342b" stroke-width="1.5"/>
<rect x="96.48" y="718.10" width="4.0" height="4.0" fill="#fff" stroke="#e2342b" stroke-width="1.2"/>
<rect x="130.38" y="627.56" width="4.0" height="4.0" fill="#fff" stroke="#e2342b" stroke-width="1.2"/>
<rect x="180.56" y="610.82" width="4.0" height="4.0" fill="#fff" stroke="#e2342b" stroke-width="1.2"/>
<polyline points="98.48,753.40 132.38,708.40 182.56,669.16 242.22,601.30 318.43,601.30" fill="none" stroke="#1a1a1a" stroke-width="1.5"/>
<circle cx="98.48" cy="753.40" r="2.35" fill="#fff" stroke="#1a1a1a" stroke-width="1.3"/>
<circle cx="132.38" cy="708.40" r="2.35" fill="#fff" stroke="#1a1a1a" stroke-width="1.3"/>
<circle cx="182.56" cy="669.16" r="2.35" fill="#fff" stroke="#1a1a1a" stroke-width="1.3"/>
<circle cx="242.22" cy="601.30" r="2.35" fill="#fff" stroke="#1a1a1a" stroke-width="1.3"/>
<circle cx="318.43" cy="601.30" r="2.35" fill="#fff" stroke="#1a1a1a" stroke-width="1.3"/>
<polyline points="132.38,725.50 318.43,623.80" fill="none" stroke="#18a85a" stroke-width="1.5"/>
<polygon points="132.38,722.70 135.18,727.50 129.58,727.50" fill="#fff" stroke="#18a85a" stroke-width="1.2"/>
<polygon points="318.43,621.00 321.23,625.80 315.63,625.80" fill="#fff" stroke="#18a85a" stroke-width="1.2"/>
<line x1="265.00" y1="744.20" x2="287.70" y2="744.20" stroke="#e2342b" stroke-width="1.5"/>
<rect x="274.40" y="742.20" width="4.0" height="4.0" fill="#fff" stroke="#e2342b" stroke-width="1.2"/>
<text transform="translate(289.60,747.80) scale(0.9780,1)" font-size="9.4" fill="#231f20" stroke="#231f20" stroke-width="0.4">-15 sec</text>
<line x1="265.00" y1="753.90" x2="287.70" y2="753.90" stroke="#1a1a1a" stroke-width="1.5"/>
<circle cx="276.40" cy="753.90" r="2.35" fill="#fff" stroke="#1a1a1a" stroke-width="1.3"/>
<text transform="translate(289.79,757.50) scale(0.9987,1)" font-size="9.4" fill="#231f20" stroke="#231f20" stroke-width="0.4">10 sec</text>
<line x1="265.00" y1="763.60" x2="287.70" y2="763.60" stroke="#18a85a" stroke-width="1.5"/>
<polygon points="276.40,760.80 279.20,765.60 273.60,765.60" fill="#fff" stroke="#18a85a" stroke-width="1.2"/>
<text transform="translate(290.03,767.20) scale(0.9897,1)" font-size="9.4" fill="#231f20" stroke="#231f20" stroke-width="0.4">25 sec</text>
<polyline points="502.30,601.30 588.10,623.80" fill="none" stroke="#e2342b" stroke-width="1.5"/>
<circle cx="502.30" cy="601.30" r="2.35" fill="#fff" stroke="#e2342b" stroke-width="1.3"/>
<circle cx="588.10" cy="623.80" r="2.35" fill="#fff" stroke="#e2342b" stroke-width="1.3"/>
<polyline points="359.30,613.18 473.70,657.82 502.30,668.98 570.94,680.32" fill="none" stroke="#1a1a1a" stroke-width="1.5"/>
<rect x="357.30" y="611.18" width="4.0" height="4.0" fill="#fff" stroke="#1a1a1a" stroke-width="1.2"/>
<rect x="471.70" y="655.82" width="4.0" height="4.0" fill="#fff" stroke="#1a1a1a" stroke-width="1.2"/>
<rect x="500.30" y="666.98" width="4.0" height="4.0" fill="#fff" stroke="#1a1a1a" stroke-width="1.2"/>
<rect x="568.94" y="678.32" width="4.0" height="4.0" fill="#fff" stroke="#1a1a1a" stroke-width="1.2"/>
<polyline points="359.30,629.56 502.30,708.58 588.10,725.50" fill="none" stroke="#3b2ea3" stroke-width="1.5"/>
<polygon points="359.30,626.36 361.70,629.56 359.30,632.76 356.90,629.56" fill="#fff" stroke="#3b2ea3" stroke-width="1.2"/>
<polygon points="502.30,705.38 504.70,708.58 502.30,711.78 499.90,708.58" fill="#fff" stroke="#3b2ea3" stroke-width="1.2"/>
<polygon points="588.10,722.30 590.50,725.50 588.10,728.70 585.70,725.50" fill="#fff" stroke="#3b2ea3" stroke-width="1.2"/>
<polyline points="359.30,719.38 502.30,753.04" fill="none" stroke="#18a85a" stroke-width="1.5"/>
<polygon points="359.30,716.58 362.10,721.38 356.50,721.38" fill="#fff" stroke="#18a85a" stroke-width="1.2"/>
<polygon points="502.30,750.24 505.10,755.04 499.50,755.04" fill="#fff" stroke="#18a85a" stroke-width="1.2"/>
<line x1="516.20" y1="741.90" x2="538.50" y2="741.90" stroke="#e2342b" stroke-width="1.5"/>
<circle cx="527.30" cy="741.90" r="2.35" fill="#fff" stroke="#e2342b" stroke-width="1.3"/>
<text transform="translate(541.50,745.80) scale(1.0000,1)" font-size="10" fill="#231f20" stroke="#231f20" stroke-width="0.4">216mV/mm</text>
<line x1="516.20" y1="751.30" x2="538.50" y2="751.30" stroke="#1a1a1a" stroke-width="1.5"/>
<rect x="525.30" y="749.30" width="4.0" height="4.0" fill="#fff" stroke="#1a1a1a" stroke-width="1.2"/>
<text transform="translate(541.24,755.20) scale(1.0000,1)" font-size="10" fill="#231f20" stroke="#231f20" stroke-width="0.4">116mV/mm</text>
<line x1="516.20" y1="760.70" x2="538.50" y2="760.70" stroke="#3b2ea3" stroke-width="1.5"/>
<polygon points="527.30,757.50 529.70,760.70 527.30,763.90 524.90,760.70" fill="#fff" stroke="#3b2ea3" stroke-width="1.2"/>
<text transform="translate(541.49,764.60) scale(1.0000,1)" font-size="10" fill="#231f20" stroke="#231f20" stroke-width="0.4">79mV/mm</text>
<line x1="516.20" y1="770.10" x2="538.50" y2="770.10" stroke="#18a85a" stroke-width="1.5"/>
<polygon points="527.30,767.30 530.10,772.10 524.50,772.10" fill="#fff" stroke="#18a85a" stroke-width="1.2"/>
<text transform="translate(541.60,774.00) scale(1.0000,1)" font-size="10" fill="#231f20" stroke="#231f20" stroke-width="0.4">54mV/mm</text>
</svg>
</body></html>
